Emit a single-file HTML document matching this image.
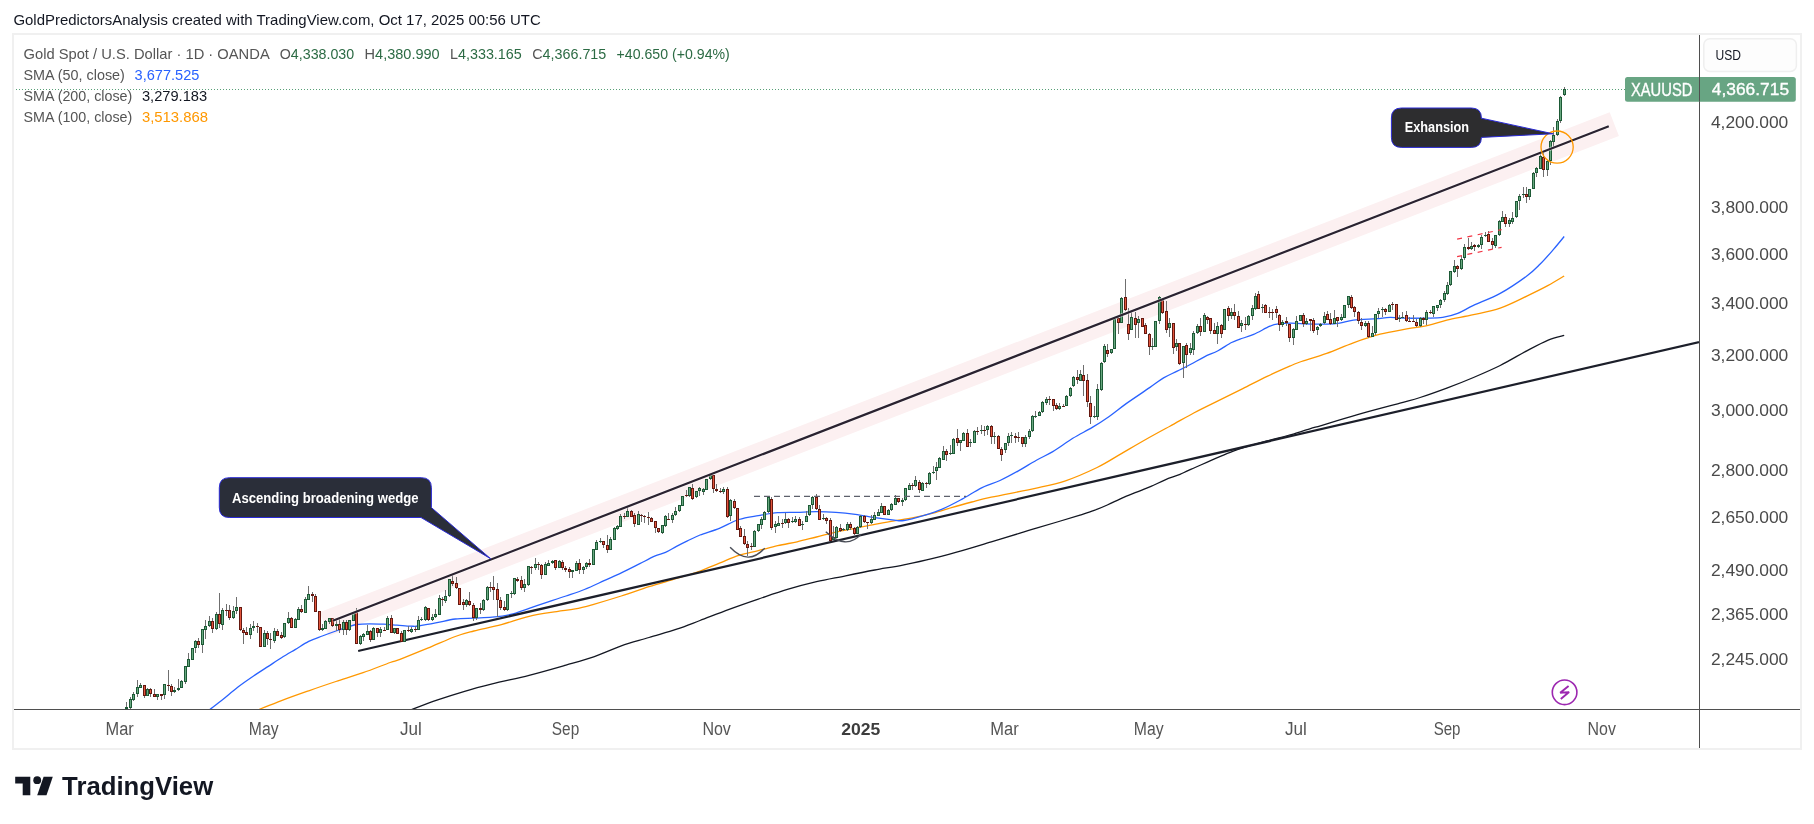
<!DOCTYPE html><html><head><meta charset="utf-8"><style>html,body{margin:0;padding:0;background:#fff;width:1814px;height:824px;overflow:hidden}svg{display:block;will-change:transform}text{font-family:"Liberation Sans",Arial,sans-serif}</style></head><body>
<svg width="1814" height="824" viewBox="0 0 1814 824">
<rect width="1814" height="824" fill="#fff"/>
<text x="13.4" y="24.8" font-size="15" fill="#131722" textLength="527.3" lengthAdjust="spacingAndGlyphs">GoldPredictorsAnalysis created with TradingView.com, Oct 17, 2025 00:56 UTC</text>
<rect x="13" y="34" width="1788" height="715" fill="none" stroke="#f0f0f0" stroke-width="2"/>
<defs><clipPath id="plot"><rect x="14" y="35" width="1685" height="674"/></clipPath></defs>
<g clip-path="url(#plot)">
<line x1="324.3" y1="624.1" x2="1614.3" y2="124.2" stroke="#fcf0f1" stroke-width="25.5" stroke-linecap="butt"/>
<path d="M411.1,709.8 C415.4,708.2 428.0,703.3 436.9,700.2 C445.8,697.1 455.4,694.0 464.6,691.3 C473.8,688.6 481.4,686.6 492.2,683.9 C502.9,681.2 516.8,678.4 529.1,675.3 C541.4,672.2 555.2,668.2 566.0,665.1 C576.8,662.0 584.5,660.0 593.7,656.8 C602.9,653.6 612.1,649.0 621.3,645.8 C630.5,642.6 639.8,640.3 649.0,637.5 C658.2,634.7 668.2,632.0 676.7,629.2 C685.2,626.4 691.3,623.8 700.0,620.5 C708.7,617.2 719.4,613.0 729.1,609.4 C738.8,605.8 748.6,602.4 758.3,599.1 C768.0,595.8 777.7,592.3 787.4,589.4 C797.1,586.5 806.8,584.0 816.5,581.7 C826.2,579.4 835.9,577.8 845.6,575.8 C855.3,573.8 865.1,571.8 874.8,570.0 C884.5,568.2 894.2,566.8 903.9,564.8 C913.6,562.8 923.3,560.7 933.0,558.3 C942.7,555.9 952.4,553.4 962.1,550.6 C971.8,547.9 981.6,544.7 991.3,541.8 C1000.9,538.9 1012.5,535.4 1020.0,533.1 C1027.5,530.8 1026.4,531.2 1036.4,528.2 C1046.4,525.2 1070.4,518.1 1080.0,515.1 C1089.6,512.1 1089.7,512.1 1094.2,510.4 C1098.8,508.7 1102.4,507.2 1107.3,505.0 C1112.2,502.8 1118.2,499.7 1123.7,497.3 C1129.2,494.9 1135.5,492.6 1140.0,490.8 C1144.5,489.0 1146.8,488.2 1151.0,486.4 C1155.2,484.6 1160.4,481.8 1165.2,479.8 C1170.0,477.8 1175.7,476.2 1180.0,474.4 C1184.3,472.6 1182.5,473.0 1191.3,469.2 C1200.1,465.4 1220.1,456.0 1232.7,451.3 C1245.3,446.6 1257.9,443.6 1267.1,441.0 C1276.3,438.4 1279.8,437.8 1287.8,435.5 C1295.8,433.2 1303.9,430.6 1315.4,427.2 C1326.9,423.8 1342.6,418.8 1356.7,414.8 C1370.8,410.8 1389.4,406.0 1400.0,403.1 C1410.6,400.2 1412.3,400.0 1420.1,397.5 C1427.9,395.0 1437.9,391.4 1446.8,388.1 C1455.7,384.8 1464.6,381.3 1473.5,377.5 C1482.4,373.7 1491.3,369.9 1500.2,365.5 C1509.1,361.1 1518.8,355.0 1526.8,350.8 C1534.8,346.6 1542.0,342.7 1548.2,340.1 C1554.4,337.5 1561.5,336.1 1564.2,335.3" fill="none" stroke="#131722" stroke-width="1.3"/>
<path d="M258.4,709.8 C262.2,708.3 273.1,703.8 281.5,700.6 C289.9,697.4 299.6,694.0 308.7,690.8 C317.8,687.6 326.8,684.5 335.9,681.5 C345.0,678.5 354.1,675.9 363.1,672.7 C372.2,669.5 384.1,664.7 390.2,662.5 C396.3,660.3 393.8,661.7 400.0,659.3 C406.2,656.9 418.5,652.0 427.7,648.2 C436.9,644.4 447.6,639.4 455.3,636.5 C463.0,633.6 466.1,633.0 473.8,631.0 C481.5,629.0 492.2,627.1 501.4,624.6 C510.6,622.1 519.9,618.5 529.1,616.3 C538.3,614.1 549.1,612.8 556.8,611.6 C564.5,610.4 569.1,610.1 575.2,608.9 C581.4,607.7 586.0,606.4 593.7,604.3 C601.4,602.1 612.1,598.9 621.3,596.0 C630.5,593.1 639.8,589.6 649.0,586.7 C658.2,583.8 668.2,581.0 676.7,578.4 C685.2,575.8 692.9,573.5 700.0,571.0 C707.1,568.5 712.9,565.8 719.4,563.2 C725.9,560.6 732.3,557.5 738.8,555.4 C745.3,553.3 751.8,552.2 758.3,550.6 C764.8,549.0 771.2,547.2 777.7,545.7 C784.2,544.2 790.6,543.2 797.1,541.8 C803.6,540.3 810.0,538.6 816.5,537.0 C823.0,535.4 829.4,533.6 835.9,532.1 C842.4,530.6 848.8,529.6 855.3,528.3 C861.8,527.0 868.3,525.6 874.8,524.4 C881.3,523.2 887.7,522.0 894.2,520.9 C900.7,519.8 907.1,518.9 913.6,517.6 C920.1,516.3 926.5,514.8 933.0,513.1 C939.5,511.4 945.9,509.2 952.4,507.3 C958.9,505.4 965.3,503.7 971.8,502.0 C978.3,500.3 980.5,499.5 991.3,497.2 C1002.1,494.9 1024.0,490.8 1036.4,488.1 C1048.8,485.4 1055.4,484.2 1065.5,480.8 C1075.6,477.4 1087.8,472.0 1097.1,467.5 C1106.4,463.0 1113.3,458.3 1121.4,453.6 C1129.5,448.9 1137.6,444.1 1145.7,439.5 C1153.8,434.9 1161.8,430.6 1169.9,426.2 C1178.0,421.8 1186.1,417.1 1194.2,412.8 C1202.3,408.6 1210.4,404.7 1218.5,400.7 C1226.6,396.7 1234.7,392.7 1242.8,388.6 C1250.9,384.6 1259.0,380.2 1267.1,376.4 C1275.2,372.5 1285.8,367.9 1291.3,365.5 C1296.8,363.1 1294.1,364.0 1300.0,362.0 C1305.9,360.0 1317.8,356.6 1326.7,353.4 C1335.6,350.2 1344.5,346.0 1353.4,342.8 C1362.3,339.6 1371.2,336.5 1380.1,334.2 C1389.0,331.9 1398.8,330.4 1406.8,328.9 C1414.8,327.4 1421.4,326.9 1428.1,325.4 C1434.8,323.9 1439.2,321.9 1446.8,320.1 C1454.4,318.3 1464.6,316.7 1473.5,314.7 C1482.4,312.7 1491.3,311.2 1500.2,308.1 C1509.1,305.0 1518.8,299.9 1526.8,296.1 C1534.8,292.3 1542.0,288.8 1548.2,285.4 C1554.4,282.0 1561.5,277.6 1564.2,276.0" fill="none" stroke="#ff9800" stroke-width="1.3"/>
<path d="M209.5,709.8 C211.8,708.0 218.3,703.0 223.1,699.2 C227.8,695.4 232.8,691.0 238.0,687.0 C243.2,683.0 249.4,678.8 254.4,675.4 C259.4,672.0 263.4,669.5 267.9,666.6 C272.4,663.7 277.0,660.6 281.5,657.8 C286.0,655.0 290.6,652.3 295.1,649.6 C299.6,646.9 304.2,643.7 308.7,641.4 C313.2,639.1 317.8,637.7 322.3,636.0 C326.8,634.3 331.4,632.6 335.9,631.0 C340.4,629.4 346.1,627.6 349.5,626.5 C352.9,625.4 352.9,625.0 356.3,624.5 C359.7,624.0 365.4,623.8 369.9,623.8 C374.4,623.8 378.9,624.0 383.4,624.2 C387.9,624.4 392.5,624.8 397.0,625.1 C401.5,625.4 407.0,626.0 410.6,626.1 C414.2,626.2 414.0,626.6 418.4,626.0 C422.8,625.4 430.8,623.9 436.9,622.7 C443.0,621.5 449.1,619.8 455.3,619.0 C461.5,618.2 467.7,618.4 473.8,618.1 C479.9,617.8 486.1,617.8 492.2,617.2 C498.3,616.6 504.5,615.9 510.7,614.4 C516.9,612.9 523.0,610.3 529.1,608.3 C535.2,606.2 541.4,604.1 547.5,602.1 C553.6,600.1 559.9,598.1 566.0,596.0 C572.1,593.9 578.2,592.0 584.4,589.5 C590.5,587.0 596.8,584.0 602.9,581.2 C609.0,578.4 615.1,575.8 621.3,572.9 C627.4,570.0 634.2,566.5 639.8,563.7 C645.3,560.9 650.3,558.1 654.6,556.2 C658.9,554.3 661.9,554.0 665.5,552.4 C669.1,550.8 672.9,548.3 676.5,546.4 C680.1,544.5 683.5,542.8 687.4,540.9 C691.3,539.0 694.7,537.1 700.0,535.0 C705.3,532.9 712.9,530.9 719.4,528.3 C725.9,525.7 732.3,521.6 738.8,519.5 C745.3,517.4 751.8,516.7 758.3,515.6 C764.8,514.5 771.2,513.2 777.7,512.7 C784.2,512.2 790.6,512.5 797.1,512.3 C803.6,512.1 810.0,511.7 816.5,511.7 C823.0,511.7 829.4,511.9 835.9,512.3 C842.4,512.7 848.8,513.4 855.3,514.3 C861.8,515.2 868.3,516.6 874.8,517.6 C881.3,518.6 889.4,519.6 894.2,520.1 C899.1,520.6 899.0,521.2 903.9,520.5 C908.8,519.8 916.8,517.6 923.3,515.6 C929.8,513.6 936.2,511.6 942.7,508.8 C949.2,506.1 955.6,502.6 962.1,499.1 C968.6,495.6 975.3,490.9 981.6,487.8 C987.9,484.7 993.8,483.4 1000.0,480.5 C1006.2,477.6 1012.7,474.0 1018.8,470.6 C1024.9,467.2 1030.7,463.4 1036.4,460.2 C1042.1,457.0 1046.7,455.2 1052.8,451.6 C1058.9,448.0 1066.2,442.3 1072.8,438.3 C1079.4,434.3 1086.2,431.0 1092.3,427.4 C1098.4,423.8 1103.5,420.5 1109.2,416.5 C1114.9,412.5 1119.4,408.5 1126.2,403.6 C1133.0,398.8 1143.8,391.7 1150.0,387.4 C1156.2,383.1 1159.1,380.6 1163.6,377.9 C1168.1,375.2 1172.7,373.4 1177.2,371.1 C1181.7,368.8 1186.3,366.7 1190.8,364.3 C1195.3,361.9 1199.9,359.1 1204.4,356.8 C1208.9,354.5 1213.5,353.1 1218.0,350.7 C1222.5,348.3 1227.9,344.4 1231.6,342.5 C1235.3,340.6 1236.3,340.5 1240.0,339.1 C1243.7,337.8 1248.7,336.5 1253.7,334.4 C1258.7,332.2 1265.7,328.0 1270.0,326.2 C1274.3,324.4 1276.1,324.3 1279.5,323.8 C1282.9,323.3 1286.3,323.2 1290.4,323.2 C1294.5,323.2 1298.0,323.6 1304.0,323.8 C1310.0,324.0 1320.8,324.2 1326.7,324.1 C1332.7,324.0 1335.2,323.8 1339.7,323.1 C1344.2,322.4 1347.3,320.8 1353.4,320.1 C1359.5,319.4 1370.3,319.1 1376.4,318.7 C1382.5,318.2 1384.9,317.5 1390.0,317.4 C1395.1,317.3 1400.7,318.1 1406.8,318.2 C1412.9,318.3 1420.4,318.2 1426.4,318.1 C1432.4,318.0 1437.5,318.2 1442.7,317.4 C1447.9,316.6 1452.6,315.4 1457.7,313.4 C1462.8,311.4 1466.4,308.7 1473.5,305.4 C1480.6,302.1 1491.3,298.3 1500.2,293.4 C1509.1,288.5 1520.1,280.9 1526.8,276.0 C1533.5,271.1 1535.8,268.4 1540.2,264.0 C1544.7,259.6 1549.5,254.0 1553.5,249.4 C1557.5,244.8 1562.4,238.7 1564.2,236.5" fill="none" stroke="#2962ff" stroke-width="1.3"/>
<line x1="359.1" y1="650.8" x2="1710" y2="339.6" stroke="#1c1f2a" stroke-width="2.2" stroke-linecap="round"/>
<line x1="13" y1="89.5" x2="1625" y2="89.5" stroke="#58a077" stroke-width="1" stroke-dasharray="1 2"/>
<g fill="#6f6f6f"><rect x="126.0" y="702" width="1" height="7"/><rect x="130.0" y="697" width="1" height="12"/><rect x="133.0" y="692" width="1" height="9"/><rect x="137.0" y="680" width="1" height="17"/><rect x="140.0" y="683" width="1" height="5"/><rect x="144.0" y="685" width="1" height="13"/><rect x="147.0" y="688" width="1" height="8"/><rect x="150.0" y="688" width="1" height="9"/><rect x="154.0" y="689" width="1" height="8"/><rect x="157.0" y="694" width="1" height="6"/><rect x="161.0" y="694" width="1" height="6"/><rect x="164.0" y="684" width="1" height="15"/><rect x="168.0" y="670" width="1" height="21"/><rect x="171.0" y="684" width="1" height="12"/><rect x="174.0" y="687" width="1" height="6"/><rect x="178.0" y="679" width="1" height="12"/><rect x="181.0" y="680" width="1" height="8"/><rect x="185.0" y="666" width="1" height="18"/><rect x="188.0" y="653" width="1" height="14"/><rect x="192.0" y="648" width="1" height="12"/><rect x="195.0" y="640" width="1" height="13"/><rect x="198.0" y="638" width="1" height="10"/><rect x="202.0" y="629" width="1" height="24"/><rect x="205.0" y="620" width="1" height="19"/><rect x="209.0" y="616" width="1" height="11"/><rect x="212.0" y="618" width="1" height="15"/><rect x="216.0" y="612" width="1" height="18"/><rect x="219.0" y="593" width="1" height="35"/><rect x="222.0" y="608" width="1" height="22"/><rect x="226.0" y="604" width="1" height="12"/><rect x="229.0" y="605" width="1" height="15"/><rect x="233.0" y="606" width="1" height="13"/><rect x="236.0" y="597" width="1" height="17"/><rect x="240.0" y="607" width="1" height="24"/><rect x="243.0" y="628" width="1" height="16"/><rect x="246.0" y="627" width="1" height="8"/><rect x="250.0" y="624" width="1" height="15"/><rect x="253.0" y="621" width="1" height="10"/><rect x="257.0" y="623" width="1" height="10"/><rect x="260.0" y="627" width="1" height="20"/><rect x="264.0" y="630" width="1" height="17"/><rect x="267.0" y="631" width="1" height="14"/><rect x="270.0" y="633" width="1" height="16"/><rect x="274.0" y="628" width="1" height="15"/><rect x="277.0" y="629" width="1" height="7"/><rect x="281.0" y="632" width="1" height="7"/><rect x="284.0" y="623" width="1" height="15"/><rect x="288.0" y="612" width="1" height="12"/><rect x="291.0" y="617" width="1" height="11"/><rect x="295.0" y="618" width="1" height="10"/><rect x="298.0" y="607" width="1" height="13"/><rect x="301.0" y="605" width="1" height="8"/><rect x="305.0" y="597" width="1" height="16"/><rect x="308.0" y="586" width="1" height="14"/><rect x="312.0" y="592" width="1" height="10"/><rect x="315.0" y="594" width="1" height="18"/><rect x="319.0" y="611" width="1" height="20"/><rect x="322.0" y="624" width="1" height="7"/><rect x="325.0" y="620" width="1" height="9"/><rect x="329.0" y="618" width="1" height="6"/><rect x="332.0" y="618" width="1" height="9"/><rect x="336.0" y="620" width="1" height="11"/><rect x="339.0" y="619" width="1" height="14"/><rect x="343.0" y="620" width="1" height="15"/><rect x="346.0" y="620" width="1" height="15"/><rect x="349.0" y="620" width="1" height="11"/><rect x="353.0" y="612" width="1" height="9"/><rect x="356.0" y="608" width="1" height="36"/><rect x="360.0" y="635" width="1" height="10"/><rect x="363.0" y="633" width="1" height="8"/><rect x="367.0" y="625" width="1" height="10"/><rect x="370.0" y="630" width="1" height="12"/><rect x="373.0" y="627" width="1" height="13"/><rect x="377.0" y="628" width="1" height="9"/><rect x="380.0" y="627" width="1" height="10"/><rect x="384.0" y="627" width="1" height="4"/><rect x="387.0" y="616" width="1" height="14"/><rect x="391.0" y="615" width="1" height="18"/><rect x="394.0" y="628" width="1" height="6"/><rect x="397.0" y="628" width="1" height="6"/><rect x="401.0" y="631" width="1" height="11"/><rect x="404.0" y="630" width="1" height="12"/><rect x="408.0" y="626" width="1" height="6"/><rect x="411.0" y="627" width="1" height="6"/><rect x="415.0" y="626" width="1" height="6"/><rect x="418.0" y="616" width="1" height="14"/><rect x="421.0" y="617" width="1" height="4"/><rect x="425.0" y="606" width="1" height="15"/><rect x="428.0" y="608" width="1" height="13"/><rect x="432.0" y="614" width="1" height="7"/><rect x="435.0" y="609" width="1" height="9"/><rect x="439.0" y="595" width="1" height="20"/><rect x="442.0" y="597" width="1" height="9"/><rect x="445.0" y="590" width="1" height="13"/><rect x="449.0" y="579" width="1" height="18"/><rect x="452.0" y="574" width="1" height="12"/><rect x="456.0" y="577" width="1" height="12"/><rect x="459.0" y="588" width="1" height="17"/><rect x="463.0" y="599" width="1" height="11"/><rect x="466.0" y="599" width="1" height="8"/><rect x="469.0" y="592" width="1" height="14"/><rect x="473.0" y="603" width="1" height="18"/><rect x="476.0" y="608" width="1" height="12"/><rect x="480.0" y="603" width="1" height="11"/><rect x="483.0" y="599" width="1" height="12"/><rect x="487.0" y="586" width="1" height="15"/><rect x="490.0" y="582" width="1" height="10"/><rect x="493.0" y="576" width="1" height="24"/><rect x="497.0" y="583" width="1" height="34"/><rect x="500.0" y="597" width="1" height="13"/><rect x="504.0" y="601" width="1" height="10"/><rect x="507.0" y="594" width="1" height="17"/><rect x="511.0" y="591" width="1" height="7"/><rect x="514.0" y="578" width="1" height="17"/><rect x="517.0" y="577" width="1" height="5"/><rect x="521.0" y="576" width="1" height="14"/><rect x="524.0" y="579" width="1" height="13"/><rect x="528.0" y="566" width="1" height="20"/><rect x="531.0" y="566" width="1" height="8"/><rect x="535.0" y="558" width="1" height="12"/><rect x="538.0" y="562" width="1" height="8"/><rect x="541.0" y="564" width="1" height="15"/><rect x="545.0" y="562" width="1" height="13"/><rect x="548.0" y="560" width="1" height="6"/><rect x="552.0" y="560" width="1" height="4"/><rect x="555.0" y="560" width="1" height="10"/><rect x="559.0" y="560" width="1" height="8"/><rect x="562.0" y="560" width="1" height="10"/><rect x="565.0" y="566" width="1" height="6"/><rect x="569.0" y="567" width="1" height="11"/><rect x="572.0" y="570" width="1" height="8"/><rect x="576.0" y="561" width="1" height="10"/><rect x="579.0" y="559" width="1" height="15"/><rect x="583.0" y="566" width="1" height="8"/><rect x="586.0" y="562" width="1" height="7"/><rect x="589.0" y="559" width="1" height="8"/><rect x="593.0" y="549" width="1" height="16"/><rect x="596.0" y="540" width="1" height="10"/><rect x="600.0" y="538" width="1" height="5"/><rect x="603.0" y="541" width="1" height="7"/><rect x="607.0" y="535" width="1" height="18"/><rect x="610.0" y="537" width="1" height="13"/><rect x="614.0" y="527" width="1" height="13"/><rect x="617.0" y="525" width="1" height="5"/><rect x="620.0" y="514" width="1" height="13"/><rect x="624.0" y="513" width="1" height="6"/><rect x="627.0" y="507" width="1" height="10"/><rect x="631.0" y="510" width="1" height="7"/><rect x="634.0" y="513" width="1" height="14"/><rect x="638.0" y="511" width="1" height="14"/><rect x="641.0" y="514" width="1" height="8"/><rect x="644.0" y="515" width="1" height="8"/><rect x="648.0" y="512" width="1" height="13"/><rect x="651.0" y="517" width="1" height="5"/><rect x="655.0" y="521" width="1" height="12"/><rect x="658.0" y="528" width="1" height="5"/><rect x="662.0" y="525" width="1" height="9"/><rect x="665.0" y="515" width="1" height="12"/><rect x="668.0" y="513" width="1" height="7"/><rect x="672.0" y="513" width="1" height="10"/><rect x="675.0" y="507" width="1" height="9"/><rect x="679.0" y="505" width="1" height="7"/><rect x="682.0" y="496" width="1" height="10"/><rect x="686.0" y="490" width="1" height="7"/><rect x="689.0" y="487" width="1" height="10"/><rect x="692.0" y="484" width="1" height="16"/><rect x="696.0" y="491" width="1" height="7"/><rect x="699.0" y="487" width="1" height="9"/><rect x="703.0" y="488" width="1" height="7"/><rect x="706.0" y="479" width="1" height="11"/><rect x="710.0" y="475" width="1" height="5"/><rect x="713.0" y="475" width="1" height="18"/><rect x="716.0" y="484" width="1" height="8"/><rect x="720.0" y="488" width="1" height="5"/><rect x="723.0" y="487" width="1" height="7"/><rect x="727.0" y="487" width="1" height="31"/><rect x="730.0" y="499" width="1" height="22"/><rect x="734.0" y="499" width="1" height="10"/><rect x="737.0" y="508" width="1" height="22"/><rect x="740.0" y="526" width="1" height="11"/><rect x="744.0" y="529" width="1" height="16"/><rect x="747.0" y="541" width="1" height="15"/><rect x="751.0" y="543" width="1" height="7"/><rect x="754.0" y="530" width="1" height="17"/><rect x="758.0" y="524" width="1" height="8"/><rect x="761.0" y="517" width="1" height="12"/><rect x="764.0" y="511" width="1" height="9"/><rect x="768.0" y="497" width="1" height="16"/><rect x="771.0" y="497" width="1" height="33"/><rect x="775.0" y="521" width="1" height="12"/><rect x="778.0" y="516" width="1" height="10"/><rect x="782.0" y="519" width="1" height="9"/><rect x="785.0" y="513" width="1" height="11"/><rect x="788.0" y="518" width="1" height="10"/><rect x="792.0" y="517" width="1" height="6"/><rect x="795.0" y="516" width="1" height="7"/><rect x="799.0" y="517" width="1" height="9"/><rect x="802.0" y="521" width="1" height="9"/><rect x="806.0" y="511" width="1" height="11"/><rect x="809.0" y="505" width="1" height="11"/><rect x="812.0" y="496" width="1" height="13"/><rect x="816.0" y="494" width="1" height="16"/><rect x="819.0" y="505" width="1" height="15"/><rect x="823.0" y="514" width="1" height="6"/><rect x="826.0" y="517" width="1" height="7"/><rect x="830.0" y="518" width="1" height="23"/><rect x="833.0" y="526" width="1" height="14"/><rect x="836.0" y="526" width="1" height="12"/><rect x="840.0" y="524" width="1" height="8"/><rect x="843.0" y="528" width="1" height="3"/><rect x="847.0" y="522" width="1" height="9"/><rect x="850.0" y="522" width="1" height="8"/><rect x="854.0" y="527" width="1" height="8"/><rect x="857.0" y="526" width="1" height="8"/><rect x="860.0" y="515" width="1" height="13"/><rect x="864.0" y="515" width="1" height="8"/><rect x="867.0" y="522" width="1" height="7"/><rect x="871.0" y="515" width="1" height="9"/><rect x="874.0" y="512" width="1" height="8"/><rect x="878.0" y="509" width="1" height="7"/><rect x="881.0" y="503" width="1" height="10"/><rect x="884.0" y="506" width="1" height="9"/><rect x="888.0" y="509" width="1" height="6"/><rect x="891.0" y="503" width="1" height="8"/><rect x="895.0" y="495" width="1" height="10"/><rect x="898.0" y="498" width="1" height="5"/><rect x="902.0" y="498" width="1" height="8"/><rect x="905.0" y="488" width="1" height="13"/><rect x="909.0" y="483" width="1" height="7"/><rect x="912.0" y="483" width="1" height="7"/><rect x="915.0" y="476" width="1" height="11"/><rect x="919.0" y="480" width="1" height="13"/><rect x="922.0" y="482" width="1" height="9"/><rect x="926.0" y="482" width="1" height="6"/><rect x="929.0" y="472" width="1" height="13"/><rect x="933.0" y="466" width="1" height="8"/><rect x="936.0" y="462" width="1" height="18"/><rect x="939.0" y="457" width="1" height="11"/><rect x="943.0" y="446" width="1" height="14"/><rect x="946.0" y="449" width="1" height="12"/><rect x="950.0" y="445" width="1" height="10"/><rect x="953.0" y="438" width="1" height="16"/><rect x="957.0" y="429" width="1" height="17"/><rect x="960.0" y="440" width="1" height="11"/><rect x="963.0" y="432" width="1" height="9"/><rect x="967.0" y="429" width="1" height="18"/><rect x="970.0" y="439" width="1" height="8"/><rect x="974.0" y="430" width="1" height="13"/><rect x="977.0" y="427" width="1" height="8"/><rect x="981.0" y="425" width="1" height="9"/><rect x="984.0" y="426" width="1" height="10"/><rect x="987.0" y="425" width="1" height="10"/><rect x="991.0" y="425" width="1" height="19"/><rect x="994.0" y="432" width="1" height="12"/><rect x="998.0" y="435" width="1" height="14"/><rect x="1001.0" y="447" width="1" height="14"/><rect x="1005.0" y="443" width="1" height="10"/><rect x="1008.0" y="433" width="1" height="13"/><rect x="1011.0" y="432" width="1" height="11"/><rect x="1015.0" y="433" width="1" height="10"/><rect x="1018.0" y="432" width="1" height="10"/><rect x="1022.0" y="437" width="1" height="10"/><rect x="1025.0" y="435" width="1" height="12"/><rect x="1029.0" y="429" width="1" height="10"/><rect x="1032.0" y="415" width="1" height="17"/><rect x="1035.0" y="411" width="1" height="7"/><rect x="1039.0" y="411" width="1" height="5"/><rect x="1042.0" y="401" width="1" height="12"/><rect x="1046.0" y="397" width="1" height="8"/><rect x="1049.0" y="396" width="1" height="9"/><rect x="1053.0" y="399" width="1" height="12"/><rect x="1056.0" y="403" width="1" height="7"/><rect x="1059.0" y="403" width="1" height="7"/><rect x="1063.0" y="404" width="1" height="3"/><rect x="1066.0" y="395" width="1" height="11"/><rect x="1070.0" y="387" width="1" height="10"/><rect x="1073.0" y="376" width="1" height="11"/><rect x="1077.0" y="370" width="1" height="14"/><rect x="1080.0" y="370" width="1" height="11"/><rect x="1083.0" y="365" width="1" height="31"/><rect x="1087.0" y="374" width="1" height="33"/><rect x="1090.0" y="396" width="1" height="28"/><rect x="1094.0" y="406" width="1" height="12"/><rect x="1097.0" y="384" width="1" height="36"/><rect x="1101.0" y="362" width="1" height="29"/><rect x="1104.0" y="344" width="1" height="19"/><rect x="1107.0" y="344" width="1" height="13"/><rect x="1111.0" y="349" width="1" height="5"/><rect x="1114.0" y="318" width="1" height="31"/><rect x="1118.0" y="316" width="1" height="18"/><rect x="1121.0" y="297" width="1" height="26"/><rect x="1125.0" y="279" width="1" height="32"/><rect x="1128.0" y="308" width="1" height="32"/><rect x="1131.0" y="312" width="1" height="18"/><rect x="1135.0" y="312" width="1" height="26"/><rect x="1138.0" y="316" width="1" height="22"/><rect x="1142.0" y="318" width="1" height="9"/><rect x="1145.0" y="323" width="1" height="11"/><rect x="1149.0" y="333" width="1" height="22"/><rect x="1152.0" y="338" width="1" height="12"/><rect x="1155.0" y="321" width="1" height="26"/><rect x="1159.0" y="296" width="1" height="28"/><rect x="1162.0" y="299" width="1" height="15"/><rect x="1166.0" y="301" width="1" height="32"/><rect x="1169.0" y="318" width="1" height="19"/><rect x="1173.0" y="323" width="1" height="31"/><rect x="1176.0" y="339" width="1" height="12"/><rect x="1179.0" y="343" width="1" height="22"/><rect x="1183.0" y="346" width="1" height="32"/><rect x="1186.0" y="343" width="1" height="25"/><rect x="1190.0" y="343" width="1" height="12"/><rect x="1193.0" y="331" width="1" height="24"/><rect x="1197.0" y="324" width="1" height="10"/><rect x="1200.0" y="318" width="1" height="18"/><rect x="1204.0" y="313" width="1" height="19"/><rect x="1207.0" y="316" width="1" height="8"/><rect x="1210.0" y="318" width="1" height="16"/><rect x="1214.0" y="323" width="1" height="11"/><rect x="1217.0" y="322" width="1" height="22"/><rect x="1221.0" y="324" width="1" height="14"/><rect x="1224.0" y="309" width="1" height="21"/><rect x="1228.0" y="306" width="1" height="15"/><rect x="1231.0" y="308" width="1" height="11"/><rect x="1234.0" y="304" width="1" height="16"/><rect x="1238.0" y="311" width="1" height="17"/><rect x="1241.0" y="320" width="1" height="12"/><rect x="1245.0" y="317" width="1" height="13"/><rect x="1248.0" y="315" width="1" height="11"/><rect x="1252.0" y="305" width="1" height="15"/><rect x="1255.0" y="293" width="1" height="17"/><rect x="1258.0" y="291" width="1" height="18"/><rect x="1262.0" y="304" width="1" height="9"/><rect x="1265.0" y="304" width="1" height="9"/><rect x="1269.0" y="307" width="1" height="11"/><rect x="1272.0" y="309" width="1" height="11"/><rect x="1276.0" y="306" width="1" height="12"/><rect x="1279.0" y="314" width="1" height="17"/><rect x="1282.0" y="320" width="1" height="7"/><rect x="1286.0" y="317" width="1" height="9"/><rect x="1289.0" y="324" width="1" height="18"/><rect x="1293.0" y="328" width="1" height="17"/><rect x="1296.0" y="316" width="1" height="14"/><rect x="1300.0" y="315" width="1" height="6"/><rect x="1303.0" y="313" width="1" height="14"/><rect x="1306.0" y="318" width="1" height="7"/><rect x="1310.0" y="319" width="1" height="12"/><rect x="1313.0" y="318" width="1" height="15"/><rect x="1317.0" y="326" width="1" height="9"/><rect x="1320.0" y="323" width="1" height="4"/><rect x="1324.0" y="312" width="1" height="12"/><rect x="1327.0" y="311" width="1" height="9"/><rect x="1330.0" y="313" width="1" height="12"/><rect x="1334.0" y="310" width="1" height="14"/><rect x="1337.0" y="317" width="1" height="10"/><rect x="1341.0" y="314" width="1" height="7"/><rect x="1344.0" y="305" width="1" height="13"/><rect x="1348.0" y="296" width="1" height="12"/><rect x="1351.0" y="295" width="1" height="14"/><rect x="1354.0" y="306" width="1" height="11"/><rect x="1358.0" y="311" width="1" height="13"/><rect x="1361.0" y="318" width="1" height="12"/><rect x="1365.0" y="321" width="1" height="6"/><rect x="1368.0" y="321" width="1" height="17"/><rect x="1372.0" y="326" width="1" height="11"/><rect x="1375.0" y="314" width="1" height="21"/><rect x="1378.0" y="308" width="1" height="10"/><rect x="1382.0" y="307" width="1" height="10"/><rect x="1385.0" y="308" width="1" height="7"/><rect x="1389.0" y="304" width="1" height="8"/><rect x="1392.0" y="302" width="1" height="8"/><rect x="1396.0" y="304" width="1" height="16"/><rect x="1399.0" y="315" width="1" height="7"/><rect x="1402.0" y="312" width="1" height="6"/><rect x="1406.0" y="311" width="1" height="11"/><rect x="1409.0" y="317" width="1" height="5"/><rect x="1413.0" y="315" width="1" height="7"/><rect x="1416.0" y="319" width="1" height="8"/><rect x="1420.0" y="317" width="1" height="10"/><rect x="1423.0" y="317" width="1" height="7"/><rect x="1426.0" y="310" width="1" height="15"/><rect x="1430.0" y="310" width="1" height="4"/><rect x="1433.0" y="306" width="1" height="11"/><rect x="1437.0" y="305" width="1" height="6"/><rect x="1440.0" y="299" width="1" height="9"/><rect x="1444.0" y="291" width="1" height="11"/><rect x="1447.0" y="282" width="1" height="13"/><rect x="1450.0" y="271" width="1" height="15"/><rect x="1454.0" y="260" width="1" height="13"/><rect x="1457.0" y="265" width="1" height="12"/><rect x="1461.0" y="256" width="1" height="14"/><rect x="1464.0" y="244" width="1" height="16"/><rect x="1468.0" y="238" width="1" height="12"/><rect x="1471.0" y="242" width="1" height="8"/><rect x="1474.0" y="244" width="1" height="7"/><rect x="1478.0" y="244" width="1" height="4"/><rect x="1481.0" y="235" width="1" height="14"/><rect x="1485.0" y="232" width="1" height="5"/><rect x="1488.0" y="231" width="1" height="11"/><rect x="1492.0" y="238" width="1" height="11"/><rect x="1495.0" y="235" width="1" height="13"/><rect x="1499.0" y="220" width="1" height="16"/><rect x="1502.0" y="211" width="1" height="11"/><rect x="1505.0" y="214" width="1" height="13"/><rect x="1509.0" y="218" width="1" height="9"/><rect x="1512.0" y="212" width="1" height="12"/><rect x="1516.0" y="201" width="1" height="17"/><rect x="1519.0" y="194" width="1" height="16"/><rect x="1523.0" y="187" width="1" height="11"/><rect x="1526.0" y="187" width="1" height="16"/><rect x="1529.0" y="189" width="1" height="11"/><rect x="1533.0" y="172" width="1" height="17"/><rect x="1536.0" y="167" width="1" height="10"/><rect x="1540.0" y="153" width="1" height="16"/><rect x="1543.0" y="153" width="1" height="24"/><rect x="1547.0" y="160" width="1" height="16"/><rect x="1550.0" y="140" width="1" height="25"/><rect x="1553.0" y="127" width="1" height="20"/><rect x="1557.0" y="119" width="1" height="17"/><rect x="1560.0" y="96" width="1" height="27"/><rect x="1564.0" y="87" width="1" height="9"/></g>
<g><rect x="125.0" y="707" width="3" height="2" fill="#1d5a36"/><rect x="129.0" y="699" width="3" height="9" fill="#1d5a36"/><rect x="130.0" y="700" width="1" height="7" fill="#68a880"/><rect x="132.0" y="694" width="3" height="6" fill="#1d5a36"/><rect x="133.0" y="695" width="1" height="4" fill="#68a880"/><rect x="136.0" y="687" width="3" height="7" fill="#1d5a36"/><rect x="137.0" y="688" width="1" height="5" fill="#68a880"/><rect x="139.0" y="685" width="3" height="3" fill="#1d5a36"/><rect x="140.0" y="686" width="1" height="1" fill="#68a880"/><rect x="143.0" y="685" width="3" height="11" fill="#641810"/><rect x="144.0" y="686" width="1" height="9" fill="#e2553c"/><rect x="146.0" y="689" width="3" height="7" fill="#1d5a36"/><rect x="147.0" y="690" width="1" height="5" fill="#68a880"/><rect x="149.0" y="689" width="3" height="5" fill="#641810"/><rect x="150.0" y="690" width="1" height="3" fill="#e2553c"/><rect x="153.0" y="694" width="3" height="3" fill="#641810"/><rect x="154.0" y="695" width="1" height="1" fill="#e2553c"/><rect x="156.0" y="694" width="3" height="3" fill="#1d5a36"/><rect x="157.0" y="695" width="1" height="1" fill="#68a880"/><rect x="160.0" y="694" width="3" height="2" fill="#641810"/><rect x="163.0" y="684" width="3" height="11" fill="#1d5a36"/><rect x="164.0" y="685" width="1" height="9" fill="#68a880"/><rect x="167.0" y="685" width="3" height="1" fill="#641810"/><rect x="170.0" y="686" width="3" height="6" fill="#641810"/><rect x="171.0" y="687" width="1" height="4" fill="#e2553c"/><rect x="173.0" y="690" width="3" height="2" fill="#1d5a36"/><rect x="177.0" y="688" width="3" height="2" fill="#1d5a36"/><rect x="180.0" y="681" width="3" height="7" fill="#1d5a36"/><rect x="181.0" y="682" width="1" height="5" fill="#68a880"/><rect x="184.0" y="666" width="3" height="16" fill="#1d5a36"/><rect x="185.0" y="667" width="1" height="14" fill="#68a880"/><rect x="187.0" y="659" width="3" height="8" fill="#1d5a36"/><rect x="188.0" y="660" width="1" height="6" fill="#68a880"/><rect x="191.0" y="648" width="3" height="12" fill="#1d5a36"/><rect x="192.0" y="649" width="1" height="10" fill="#68a880"/><rect x="194.0" y="641" width="3" height="7" fill="#1d5a36"/><rect x="195.0" y="642" width="1" height="5" fill="#68a880"/><rect x="197.0" y="641" width="3" height="4" fill="#641810"/><rect x="198.0" y="642" width="1" height="2" fill="#e2553c"/><rect x="201.0" y="629" width="3" height="16" fill="#1d5a36"/><rect x="202.0" y="630" width="1" height="14" fill="#68a880"/><rect x="204.0" y="626" width="3" height="4" fill="#1d5a36"/><rect x="205.0" y="627" width="1" height="2" fill="#68a880"/><rect x="208.0" y="621" width="3" height="5" fill="#1d5a36"/><rect x="209.0" y="622" width="1" height="3" fill="#68a880"/><rect x="211.0" y="621" width="3" height="8" fill="#641810"/><rect x="212.0" y="622" width="1" height="6" fill="#e2553c"/><rect x="215.0" y="614" width="3" height="15" fill="#1d5a36"/><rect x="216.0" y="615" width="1" height="13" fill="#68a880"/><rect x="218.0" y="614" width="3" height="10" fill="#641810"/><rect x="219.0" y="615" width="1" height="8" fill="#e2553c"/><rect x="221.0" y="610" width="3" height="15" fill="#1d5a36"/><rect x="222.0" y="611" width="1" height="13" fill="#68a880"/><rect x="225.0" y="610" width="3" height="1" fill="#641810"/><rect x="228.0" y="610" width="3" height="8" fill="#641810"/><rect x="229.0" y="611" width="1" height="6" fill="#e2553c"/><rect x="232.0" y="611" width="3" height="7" fill="#1d5a36"/><rect x="233.0" y="612" width="1" height="5" fill="#68a880"/><rect x="235.0" y="607" width="3" height="4" fill="#1d5a36"/><rect x="236.0" y="608" width="1" height="2" fill="#68a880"/><rect x="239.0" y="607" width="3" height="23" fill="#641810"/><rect x="240.0" y="608" width="1" height="21" fill="#e2553c"/><rect x="242.0" y="630" width="3" height="3" fill="#641810"/><rect x="243.0" y="631" width="1" height="1" fill="#e2553c"/><rect x="245.0" y="632" width="3" height="3" fill="#641810"/><rect x="246.0" y="633" width="1" height="1" fill="#e2553c"/><rect x="249.0" y="628" width="3" height="7" fill="#1d5a36"/><rect x="250.0" y="629" width="1" height="5" fill="#68a880"/><rect x="252.0" y="626" width="3" height="2" fill="#1d5a36"/><rect x="256.0" y="626" width="3" height="1" fill="#641810"/><rect x="259.0" y="627" width="3" height="20" fill="#641810"/><rect x="260.0" y="628" width="1" height="18" fill="#e2553c"/><rect x="263.0" y="633" width="3" height="14" fill="#1d5a36"/><rect x="264.0" y="634" width="1" height="12" fill="#68a880"/><rect x="266.0" y="633" width="3" height="6" fill="#641810"/><rect x="267.0" y="634" width="1" height="4" fill="#e2553c"/><rect x="269.0" y="639" width="3" height="1" fill="#641810"/><rect x="273.0" y="631" width="3" height="10" fill="#1d5a36"/><rect x="274.0" y="632" width="1" height="8" fill="#68a880"/><rect x="276.0" y="631" width="3" height="5" fill="#641810"/><rect x="277.0" y="632" width="1" height="3" fill="#e2553c"/><rect x="280.0" y="635" width="3" height="3" fill="#641810"/><rect x="281.0" y="636" width="1" height="1" fill="#e2553c"/><rect x="283.0" y="623" width="3" height="14" fill="#1d5a36"/><rect x="284.0" y="624" width="1" height="12" fill="#68a880"/><rect x="287.0" y="618" width="3" height="5" fill="#1d5a36"/><rect x="288.0" y="619" width="1" height="3" fill="#68a880"/><rect x="290.0" y="618" width="3" height="10" fill="#641810"/><rect x="291.0" y="619" width="1" height="8" fill="#e2553c"/><rect x="294.0" y="619" width="3" height="9" fill="#1d5a36"/><rect x="295.0" y="620" width="1" height="7" fill="#68a880"/><rect x="297.0" y="609" width="3" height="11" fill="#1d5a36"/><rect x="298.0" y="610" width="1" height="9" fill="#68a880"/><rect x="300.0" y="609" width="3" height="3" fill="#641810"/><rect x="301.0" y="610" width="1" height="1" fill="#e2553c"/><rect x="304.0" y="599" width="3" height="14" fill="#1d5a36"/><rect x="305.0" y="600" width="1" height="12" fill="#68a880"/><rect x="307.0" y="594" width="3" height="6" fill="#1d5a36"/><rect x="308.0" y="595" width="1" height="4" fill="#68a880"/><rect x="311.0" y="594" width="3" height="2" fill="#641810"/><rect x="314.0" y="596" width="3" height="16" fill="#641810"/><rect x="315.0" y="597" width="1" height="14" fill="#e2553c"/><rect x="318.0" y="611" width="3" height="19" fill="#641810"/><rect x="319.0" y="612" width="1" height="17" fill="#e2553c"/><rect x="321.0" y="628" width="3" height="2" fill="#1d5a36"/><rect x="324.0" y="621" width="3" height="8" fill="#1d5a36"/><rect x="325.0" y="622" width="1" height="6" fill="#68a880"/><rect x="328.0" y="618" width="3" height="4" fill="#1d5a36"/><rect x="329.0" y="619" width="1" height="2" fill="#68a880"/><rect x="331.0" y="618" width="3" height="8" fill="#641810"/><rect x="332.0" y="619" width="1" height="6" fill="#e2553c"/><rect x="335.0" y="624" width="3" height="2" fill="#1d5a36"/><rect x="338.0" y="624" width="3" height="6" fill="#641810"/><rect x="339.0" y="625" width="1" height="4" fill="#e2553c"/><rect x="342.0" y="622" width="3" height="8" fill="#1d5a36"/><rect x="343.0" y="623" width="1" height="6" fill="#68a880"/><rect x="345.0" y="622" width="3" height="8" fill="#641810"/><rect x="346.0" y="623" width="1" height="6" fill="#e2553c"/><rect x="348.0" y="620" width="3" height="10" fill="#1d5a36"/><rect x="349.0" y="621" width="1" height="8" fill="#68a880"/><rect x="352.0" y="612" width="3" height="9" fill="#1d5a36"/><rect x="353.0" y="613" width="1" height="7" fill="#68a880"/><rect x="355.0" y="612" width="3" height="32" fill="#641810"/><rect x="356.0" y="613" width="1" height="30" fill="#e2553c"/><rect x="359.0" y="636" width="3" height="8" fill="#1d5a36"/><rect x="360.0" y="637" width="1" height="6" fill="#68a880"/><rect x="362.0" y="634" width="3" height="3" fill="#1d5a36"/><rect x="363.0" y="635" width="1" height="1" fill="#68a880"/><rect x="366.0" y="631" width="3" height="4" fill="#1d5a36"/><rect x="367.0" y="632" width="1" height="2" fill="#68a880"/><rect x="369.0" y="631" width="3" height="9" fill="#641810"/><rect x="370.0" y="632" width="1" height="7" fill="#e2553c"/><rect x="372.0" y="628" width="3" height="12" fill="#1d5a36"/><rect x="373.0" y="629" width="1" height="10" fill="#68a880"/><rect x="376.0" y="628" width="3" height="5" fill="#641810"/><rect x="377.0" y="629" width="1" height="3" fill="#e2553c"/><rect x="379.0" y="629" width="3" height="4" fill="#1d5a36"/><rect x="380.0" y="630" width="1" height="2" fill="#68a880"/><rect x="383.0" y="630" width="3" height="1" fill="#641810"/><rect x="386.0" y="618" width="3" height="12" fill="#1d5a36"/><rect x="387.0" y="619" width="1" height="10" fill="#68a880"/><rect x="390.0" y="618" width="3" height="15" fill="#641810"/><rect x="391.0" y="619" width="1" height="13" fill="#e2553c"/><rect x="393.0" y="628" width="3" height="5" fill="#1d5a36"/><rect x="394.0" y="629" width="1" height="3" fill="#68a880"/><rect x="396.0" y="628" width="3" height="6" fill="#641810"/><rect x="397.0" y="629" width="1" height="4" fill="#e2553c"/><rect x="400.0" y="633" width="3" height="9" fill="#641810"/><rect x="401.0" y="634" width="1" height="7" fill="#e2553c"/><rect x="403.0" y="630" width="3" height="12" fill="#1d5a36"/><rect x="404.0" y="631" width="1" height="10" fill="#68a880"/><rect x="407.0" y="630" width="3" height="1" fill="#641810"/><rect x="410.0" y="629" width="3" height="3" fill="#1d5a36"/><rect x="411.0" y="630" width="1" height="1" fill="#68a880"/><rect x="414.0" y="629" width="3" height="1" fill="#641810"/><rect x="417.0" y="620" width="3" height="10" fill="#1d5a36"/><rect x="418.0" y="621" width="1" height="8" fill="#68a880"/><rect x="420.0" y="619" width="3" height="1" fill="#1d5a36"/><rect x="424.0" y="607" width="3" height="13" fill="#1d5a36"/><rect x="425.0" y="608" width="1" height="11" fill="#68a880"/><rect x="427.0" y="608" width="3" height="12" fill="#641810"/><rect x="428.0" y="609" width="1" height="10" fill="#e2553c"/><rect x="431.0" y="617" width="3" height="3" fill="#1d5a36"/><rect x="432.0" y="618" width="1" height="1" fill="#68a880"/><rect x="434.0" y="614" width="3" height="3" fill="#1d5a36"/><rect x="435.0" y="615" width="1" height="1" fill="#68a880"/><rect x="438.0" y="598" width="3" height="17" fill="#1d5a36"/><rect x="439.0" y="599" width="1" height="15" fill="#68a880"/><rect x="441.0" y="599" width="3" height="1" fill="#641810"/><rect x="444.0" y="596" width="3" height="5" fill="#1d5a36"/><rect x="445.0" y="597" width="1" height="3" fill="#68a880"/><rect x="448.0" y="579" width="3" height="17" fill="#1d5a36"/><rect x="449.0" y="580" width="1" height="15" fill="#68a880"/><rect x="451.0" y="581" width="3" height="3" fill="#641810"/><rect x="452.0" y="582" width="1" height="1" fill="#e2553c"/><rect x="455.0" y="583" width="3" height="5" fill="#641810"/><rect x="456.0" y="584" width="1" height="3" fill="#e2553c"/><rect x="458.0" y="588" width="3" height="17" fill="#641810"/><rect x="459.0" y="589" width="1" height="15" fill="#e2553c"/><rect x="462.0" y="602" width="3" height="3" fill="#641810"/><rect x="463.0" y="603" width="1" height="1" fill="#e2553c"/><rect x="465.0" y="600" width="3" height="5" fill="#1d5a36"/><rect x="466.0" y="601" width="1" height="3" fill="#68a880"/><rect x="468.0" y="601" width="3" height="4" fill="#641810"/><rect x="469.0" y="602" width="1" height="2" fill="#e2553c"/><rect x="472.0" y="605" width="3" height="13" fill="#641810"/><rect x="473.0" y="606" width="1" height="11" fill="#e2553c"/><rect x="475.0" y="608" width="3" height="10" fill="#1d5a36"/><rect x="476.0" y="609" width="1" height="8" fill="#68a880"/><rect x="479.0" y="608" width="3" height="2" fill="#641810"/><rect x="482.0" y="600" width="3" height="10" fill="#1d5a36"/><rect x="483.0" y="601" width="1" height="8" fill="#68a880"/><rect x="486.0" y="587" width="3" height="13" fill="#1d5a36"/><rect x="487.0" y="588" width="1" height="11" fill="#68a880"/><rect x="489.0" y="587" width="3" height="1" fill="#641810"/><rect x="492.0" y="587" width="3" height="3" fill="#641810"/><rect x="493.0" y="588" width="1" height="1" fill="#e2553c"/><rect x="496.0" y="589" width="3" height="11" fill="#641810"/><rect x="497.0" y="590" width="1" height="9" fill="#e2553c"/><rect x="499.0" y="600" width="3" height="8" fill="#641810"/><rect x="500.0" y="601" width="1" height="6" fill="#e2553c"/><rect x="503.0" y="607" width="3" height="3" fill="#641810"/><rect x="504.0" y="608" width="1" height="1" fill="#e2553c"/><rect x="506.0" y="594" width="3" height="16" fill="#1d5a36"/><rect x="507.0" y="595" width="1" height="14" fill="#68a880"/><rect x="510.0" y="593" width="3" height="1" fill="#1d5a36"/><rect x="513.0" y="578" width="3" height="16" fill="#1d5a36"/><rect x="514.0" y="579" width="1" height="14" fill="#68a880"/><rect x="516.0" y="579" width="3" height="2" fill="#641810"/><rect x="520.0" y="580" width="3" height="8" fill="#641810"/><rect x="521.0" y="581" width="1" height="6" fill="#e2553c"/><rect x="523.0" y="584" width="3" height="4" fill="#1d5a36"/><rect x="524.0" y="585" width="1" height="2" fill="#68a880"/><rect x="527.0" y="566" width="3" height="19" fill="#1d5a36"/><rect x="528.0" y="567" width="1" height="17" fill="#68a880"/><rect x="530.0" y="567" width="3" height="1" fill="#641810"/><rect x="534.0" y="564" width="3" height="4" fill="#1d5a36"/><rect x="535.0" y="565" width="1" height="2" fill="#68a880"/><rect x="537.0" y="564" width="3" height="1" fill="#641810"/><rect x="540.0" y="565" width="3" height="10" fill="#641810"/><rect x="541.0" y="566" width="1" height="8" fill="#e2553c"/><rect x="544.0" y="564" width="3" height="11" fill="#1d5a36"/><rect x="545.0" y="565" width="1" height="9" fill="#68a880"/><rect x="547.0" y="563" width="3" height="3" fill="#1d5a36"/><rect x="548.0" y="564" width="1" height="1" fill="#68a880"/><rect x="551.0" y="561" width="3" height="2" fill="#1d5a36"/><rect x="554.0" y="560" width="3" height="8" fill="#641810"/><rect x="555.0" y="561" width="1" height="6" fill="#e2553c"/><rect x="558.0" y="561" width="3" height="7" fill="#1d5a36"/><rect x="559.0" y="562" width="1" height="5" fill="#68a880"/><rect x="561.0" y="562" width="3" height="6" fill="#641810"/><rect x="562.0" y="563" width="1" height="4" fill="#e2553c"/><rect x="564.0" y="568" width="3" height="2" fill="#641810"/><rect x="568.0" y="569" width="3" height="3" fill="#641810"/><rect x="569.0" y="570" width="1" height="1" fill="#e2553c"/><rect x="571.0" y="570" width="3" height="2" fill="#1d5a36"/><rect x="575.0" y="563" width="3" height="8" fill="#1d5a36"/><rect x="576.0" y="564" width="1" height="6" fill="#68a880"/><rect x="578.0" y="563" width="3" height="7" fill="#641810"/><rect x="579.0" y="564" width="1" height="5" fill="#e2553c"/><rect x="582.0" y="567" width="3" height="3" fill="#1d5a36"/><rect x="583.0" y="568" width="1" height="1" fill="#68a880"/><rect x="585.0" y="563" width="3" height="4" fill="#1d5a36"/><rect x="586.0" y="564" width="1" height="2" fill="#68a880"/><rect x="588.0" y="563" width="3" height="2" fill="#641810"/><rect x="592.0" y="549" width="3" height="16" fill="#1d5a36"/><rect x="593.0" y="550" width="1" height="14" fill="#68a880"/><rect x="595.0" y="542" width="3" height="8" fill="#1d5a36"/><rect x="596.0" y="543" width="1" height="6" fill="#68a880"/><rect x="599.0" y="541" width="3" height="1" fill="#1d5a36"/><rect x="602.0" y="541" width="3" height="4" fill="#641810"/><rect x="603.0" y="542" width="1" height="2" fill="#e2553c"/><rect x="606.0" y="545" width="3" height="5" fill="#641810"/><rect x="607.0" y="546" width="1" height="3" fill="#e2553c"/><rect x="609.0" y="539" width="3" height="11" fill="#1d5a36"/><rect x="610.0" y="540" width="1" height="9" fill="#68a880"/><rect x="613.0" y="528" width="3" height="12" fill="#1d5a36"/><rect x="614.0" y="529" width="1" height="10" fill="#68a880"/><rect x="616.0" y="526" width="3" height="3" fill="#1d5a36"/><rect x="617.0" y="527" width="1" height="1" fill="#68a880"/><rect x="619.0" y="516" width="3" height="11" fill="#1d5a36"/><rect x="620.0" y="517" width="1" height="9" fill="#68a880"/><rect x="623.0" y="516" width="3" height="1" fill="#641810"/><rect x="626.0" y="511" width="3" height="6" fill="#1d5a36"/><rect x="627.0" y="512" width="1" height="4" fill="#68a880"/><rect x="630.0" y="511" width="3" height="6" fill="#641810"/><rect x="631.0" y="512" width="1" height="4" fill="#e2553c"/><rect x="633.0" y="515" width="3" height="9" fill="#641810"/><rect x="634.0" y="516" width="1" height="7" fill="#e2553c"/><rect x="637.0" y="514" width="3" height="11" fill="#1d5a36"/><rect x="638.0" y="515" width="1" height="9" fill="#68a880"/><rect x="640.0" y="515" width="3" height="1" fill="#641810"/><rect x="643.0" y="516" width="3" height="1" fill="#641810"/><rect x="647.0" y="517" width="3" height="1" fill="#641810"/><rect x="650.0" y="518" width="3" height="4" fill="#641810"/><rect x="651.0" y="519" width="1" height="2" fill="#e2553c"/><rect x="654.0" y="521" width="3" height="7" fill="#641810"/><rect x="655.0" y="522" width="1" height="5" fill="#e2553c"/><rect x="657.0" y="528" width="3" height="4" fill="#641810"/><rect x="658.0" y="529" width="1" height="2" fill="#e2553c"/><rect x="661.0" y="525" width="3" height="8" fill="#1d5a36"/><rect x="662.0" y="526" width="1" height="6" fill="#68a880"/><rect x="664.0" y="516" width="3" height="10" fill="#1d5a36"/><rect x="665.0" y="517" width="1" height="8" fill="#68a880"/><rect x="667.0" y="519" width="3" height="1" fill="#641810"/><rect x="671.0" y="515" width="3" height="5" fill="#1d5a36"/><rect x="672.0" y="516" width="1" height="3" fill="#68a880"/><rect x="674.0" y="511" width="3" height="4" fill="#1d5a36"/><rect x="675.0" y="512" width="1" height="2" fill="#68a880"/><rect x="678.0" y="505" width="3" height="6" fill="#1d5a36"/><rect x="679.0" y="506" width="1" height="4" fill="#68a880"/><rect x="681.0" y="496" width="3" height="10" fill="#1d5a36"/><rect x="682.0" y="497" width="1" height="8" fill="#68a880"/><rect x="685.0" y="495" width="3" height="1" fill="#641810"/><rect x="688.0" y="487" width="3" height="9" fill="#1d5a36"/><rect x="689.0" y="488" width="1" height="7" fill="#68a880"/><rect x="691.0" y="488" width="3" height="11" fill="#641810"/><rect x="692.0" y="489" width="1" height="9" fill="#e2553c"/><rect x="695.0" y="491" width="3" height="6" fill="#1d5a36"/><rect x="696.0" y="492" width="1" height="4" fill="#68a880"/><rect x="698.0" y="488" width="3" height="3" fill="#1d5a36"/><rect x="699.0" y="489" width="1" height="1" fill="#68a880"/><rect x="702.0" y="489" width="3" height="3" fill="#1d5a36"/><rect x="703.0" y="490" width="1" height="1" fill="#68a880"/><rect x="705.0" y="479" width="3" height="11" fill="#1d5a36"/><rect x="706.0" y="480" width="1" height="9" fill="#68a880"/><rect x="709.0" y="475" width="3" height="4" fill="#1d5a36"/><rect x="710.0" y="476" width="1" height="2" fill="#68a880"/><rect x="712.0" y="475" width="3" height="14" fill="#641810"/><rect x="713.0" y="476" width="1" height="12" fill="#e2553c"/><rect x="715.0" y="489" width="3" height="2" fill="#641810"/><rect x="719.0" y="491" width="3" height="1" fill="#641810"/><rect x="722.0" y="489" width="3" height="3" fill="#1d5a36"/><rect x="723.0" y="490" width="1" height="1" fill="#68a880"/><rect x="726.0" y="489" width="3" height="28" fill="#641810"/><rect x="727.0" y="490" width="1" height="26" fill="#e2553c"/><rect x="729.0" y="500" width="3" height="16" fill="#1d5a36"/><rect x="730.0" y="501" width="1" height="14" fill="#68a880"/><rect x="733.0" y="501" width="3" height="7" fill="#641810"/><rect x="734.0" y="502" width="1" height="5" fill="#e2553c"/><rect x="736.0" y="508" width="3" height="22" fill="#641810"/><rect x="737.0" y="509" width="1" height="20" fill="#e2553c"/><rect x="739.0" y="528" width="3" height="9" fill="#641810"/><rect x="740.0" y="529" width="1" height="7" fill="#e2553c"/><rect x="743.0" y="536" width="3" height="8" fill="#641810"/><rect x="744.0" y="537" width="1" height="6" fill="#e2553c"/><rect x="746.0" y="544" width="3" height="4" fill="#641810"/><rect x="747.0" y="545" width="1" height="2" fill="#e2553c"/><rect x="750.0" y="546" width="3" height="1" fill="#641810"/><rect x="753.0" y="531" width="3" height="16" fill="#1d5a36"/><rect x="754.0" y="532" width="1" height="14" fill="#68a880"/><rect x="757.0" y="524" width="3" height="7" fill="#1d5a36"/><rect x="758.0" y="525" width="1" height="5" fill="#68a880"/><rect x="760.0" y="519" width="3" height="6" fill="#1d5a36"/><rect x="761.0" y="520" width="1" height="4" fill="#68a880"/><rect x="763.0" y="512" width="3" height="8" fill="#1d5a36"/><rect x="764.0" y="513" width="1" height="6" fill="#68a880"/><rect x="767.0" y="497" width="3" height="15" fill="#1d5a36"/><rect x="768.0" y="498" width="1" height="13" fill="#68a880"/><rect x="770.0" y="499" width="3" height="29" fill="#641810"/><rect x="771.0" y="500" width="1" height="27" fill="#e2553c"/><rect x="774.0" y="524" width="3" height="3" fill="#1d5a36"/><rect x="775.0" y="525" width="1" height="1" fill="#68a880"/><rect x="777.0" y="523" width="3" height="3" fill="#1d5a36"/><rect x="778.0" y="524" width="1" height="1" fill="#68a880"/><rect x="781.0" y="523" width="3" height="1" fill="#641810"/><rect x="784.0" y="519" width="3" height="4" fill="#1d5a36"/><rect x="785.0" y="520" width="1" height="2" fill="#68a880"/><rect x="787.0" y="519" width="3" height="4" fill="#641810"/><rect x="788.0" y="520" width="1" height="2" fill="#e2553c"/><rect x="791.0" y="521" width="3" height="1" fill="#1d5a36"/><rect x="794.0" y="519" width="3" height="3" fill="#1d5a36"/><rect x="795.0" y="520" width="1" height="1" fill="#68a880"/><rect x="798.0" y="519" width="3" height="7" fill="#641810"/><rect x="799.0" y="520" width="1" height="5" fill="#e2553c"/><rect x="801.0" y="524" width="3" height="1" fill="#1d5a36"/><rect x="805.0" y="516" width="3" height="6" fill="#1d5a36"/><rect x="806.0" y="517" width="1" height="4" fill="#68a880"/><rect x="808.0" y="505" width="3" height="10" fill="#1d5a36"/><rect x="809.0" y="506" width="1" height="8" fill="#68a880"/><rect x="811.0" y="497" width="3" height="8" fill="#1d5a36"/><rect x="812.0" y="498" width="1" height="6" fill="#68a880"/><rect x="815.0" y="497" width="3" height="12" fill="#641810"/><rect x="816.0" y="498" width="1" height="10" fill="#e2553c"/><rect x="818.0" y="509" width="3" height="11" fill="#641810"/><rect x="819.0" y="510" width="1" height="9" fill="#e2553c"/><rect x="822.0" y="518" width="3" height="1" fill="#1d5a36"/><rect x="825.0" y="518" width="3" height="3" fill="#641810"/><rect x="826.0" y="519" width="1" height="1" fill="#e2553c"/><rect x="829.0" y="520" width="3" height="21" fill="#641810"/><rect x="830.0" y="521" width="1" height="19" fill="#e2553c"/><rect x="832.0" y="537" width="3" height="3" fill="#1d5a36"/><rect x="833.0" y="538" width="1" height="1" fill="#68a880"/><rect x="835.0" y="527" width="3" height="11" fill="#1d5a36"/><rect x="836.0" y="528" width="1" height="9" fill="#68a880"/><rect x="839.0" y="528" width="3" height="3" fill="#641810"/><rect x="840.0" y="529" width="1" height="1" fill="#e2553c"/><rect x="842.0" y="529" width="3" height="1" fill="#1d5a36"/><rect x="846.0" y="524" width="3" height="6" fill="#1d5a36"/><rect x="847.0" y="525" width="1" height="4" fill="#68a880"/><rect x="849.0" y="524" width="3" height="4" fill="#641810"/><rect x="850.0" y="525" width="1" height="2" fill="#e2553c"/><rect x="853.0" y="528" width="3" height="6" fill="#641810"/><rect x="854.0" y="529" width="1" height="4" fill="#e2553c"/><rect x="856.0" y="527" width="3" height="7" fill="#1d5a36"/><rect x="857.0" y="528" width="1" height="5" fill="#68a880"/><rect x="859.0" y="516" width="3" height="11" fill="#1d5a36"/><rect x="860.0" y="517" width="1" height="9" fill="#68a880"/><rect x="863.0" y="516" width="3" height="6" fill="#641810"/><rect x="864.0" y="517" width="1" height="4" fill="#e2553c"/><rect x="866.0" y="522" width="3" height="1" fill="#641810"/><rect x="870.0" y="519" width="3" height="4" fill="#1d5a36"/><rect x="871.0" y="520" width="1" height="2" fill="#68a880"/><rect x="873.0" y="515" width="3" height="5" fill="#1d5a36"/><rect x="874.0" y="516" width="1" height="3" fill="#68a880"/><rect x="877.0" y="512" width="3" height="4" fill="#1d5a36"/><rect x="878.0" y="513" width="1" height="2" fill="#68a880"/><rect x="880.0" y="506" width="3" height="7" fill="#1d5a36"/><rect x="881.0" y="507" width="1" height="5" fill="#68a880"/><rect x="883.0" y="506" width="3" height="9" fill="#641810"/><rect x="884.0" y="507" width="1" height="7" fill="#e2553c"/><rect x="887.0" y="510" width="3" height="5" fill="#1d5a36"/><rect x="888.0" y="511" width="1" height="3" fill="#68a880"/><rect x="890.0" y="504" width="3" height="6" fill="#1d5a36"/><rect x="891.0" y="505" width="1" height="4" fill="#68a880"/><rect x="894.0" y="498" width="3" height="7" fill="#1d5a36"/><rect x="895.0" y="499" width="1" height="5" fill="#68a880"/><rect x="897.0" y="498" width="3" height="4" fill="#641810"/><rect x="898.0" y="499" width="1" height="2" fill="#e2553c"/><rect x="901.0" y="500" width="3" height="2" fill="#1d5a36"/><rect x="904.0" y="488" width="3" height="12" fill="#1d5a36"/><rect x="905.0" y="489" width="1" height="10" fill="#68a880"/><rect x="908.0" y="485" width="3" height="5" fill="#1d5a36"/><rect x="909.0" y="486" width="1" height="3" fill="#68a880"/><rect x="911.0" y="485" width="3" height="1" fill="#641810"/><rect x="914.0" y="480" width="3" height="6" fill="#1d5a36"/><rect x="915.0" y="481" width="1" height="4" fill="#68a880"/><rect x="918.0" y="482" width="3" height="8" fill="#641810"/><rect x="919.0" y="483" width="1" height="6" fill="#e2553c"/><rect x="921.0" y="483" width="3" height="8" fill="#1d5a36"/><rect x="922.0" y="484" width="1" height="6" fill="#68a880"/><rect x="925.0" y="483" width="3" height="1" fill="#641810"/><rect x="928.0" y="473" width="3" height="11" fill="#1d5a36"/><rect x="929.0" y="474" width="1" height="9" fill="#68a880"/><rect x="932.0" y="472" width="3" height="1" fill="#1d5a36"/><rect x="935.0" y="467" width="3" height="4" fill="#1d5a36"/><rect x="936.0" y="468" width="1" height="2" fill="#68a880"/><rect x="938.0" y="458" width="3" height="10" fill="#1d5a36"/><rect x="939.0" y="459" width="1" height="8" fill="#68a880"/><rect x="942.0" y="451" width="3" height="9" fill="#1d5a36"/><rect x="943.0" y="452" width="1" height="7" fill="#68a880"/><rect x="945.0" y="451" width="3" height="4" fill="#641810"/><rect x="946.0" y="452" width="1" height="2" fill="#e2553c"/><rect x="949.0" y="453" width="3" height="1" fill="#1d5a36"/><rect x="952.0" y="439" width="3" height="15" fill="#1d5a36"/><rect x="953.0" y="440" width="1" height="13" fill="#68a880"/><rect x="956.0" y="438" width="3" height="5" fill="#641810"/><rect x="957.0" y="439" width="1" height="3" fill="#e2553c"/><rect x="959.0" y="440" width="3" height="3" fill="#1d5a36"/><rect x="960.0" y="441" width="1" height="1" fill="#68a880"/><rect x="962.0" y="433" width="3" height="8" fill="#1d5a36"/><rect x="963.0" y="434" width="1" height="6" fill="#68a880"/><rect x="966.0" y="433" width="3" height="14" fill="#641810"/><rect x="967.0" y="434" width="1" height="12" fill="#e2553c"/><rect x="969.0" y="442" width="3" height="1" fill="#1d5a36"/><rect x="973.0" y="431" width="3" height="12" fill="#1d5a36"/><rect x="974.0" y="432" width="1" height="10" fill="#68a880"/><rect x="976.0" y="431" width="3" height="1" fill="#641810"/><rect x="980.0" y="430" width="3" height="1" fill="#1d5a36"/><rect x="983.0" y="430" width="3" height="1" fill="#641810"/><rect x="986.0" y="426" width="3" height="4" fill="#1d5a36"/><rect x="987.0" y="427" width="1" height="2" fill="#68a880"/><rect x="990.0" y="426" width="3" height="11" fill="#641810"/><rect x="991.0" y="427" width="1" height="9" fill="#e2553c"/><rect x="993.0" y="436" width="3" height="1" fill="#1d5a36"/><rect x="997.0" y="436" width="3" height="13" fill="#641810"/><rect x="998.0" y="437" width="1" height="11" fill="#e2553c"/><rect x="1000.0" y="449" width="3" height="6" fill="#641810"/><rect x="1001.0" y="450" width="1" height="4" fill="#e2553c"/><rect x="1004.0" y="443" width="3" height="7" fill="#1d5a36"/><rect x="1005.0" y="444" width="1" height="5" fill="#68a880"/><rect x="1007.0" y="436" width="3" height="7" fill="#1d5a36"/><rect x="1008.0" y="437" width="1" height="5" fill="#68a880"/><rect x="1010.0" y="435" width="3" height="1" fill="#1d5a36"/><rect x="1014.0" y="436" width="3" height="2" fill="#641810"/><rect x="1017.0" y="437" width="3" height="1" fill="#641810"/><rect x="1021.0" y="437" width="3" height="7" fill="#641810"/><rect x="1022.0" y="438" width="1" height="5" fill="#e2553c"/><rect x="1024.0" y="437" width="3" height="7" fill="#1d5a36"/><rect x="1025.0" y="438" width="1" height="5" fill="#68a880"/><rect x="1028.0" y="431" width="3" height="6" fill="#1d5a36"/><rect x="1029.0" y="432" width="1" height="4" fill="#68a880"/><rect x="1031.0" y="416" width="3" height="15" fill="#1d5a36"/><rect x="1032.0" y="417" width="1" height="13" fill="#68a880"/><rect x="1034.0" y="416" width="3" height="1" fill="#1d5a36"/><rect x="1038.0" y="412" width="3" height="4" fill="#1d5a36"/><rect x="1039.0" y="413" width="1" height="2" fill="#68a880"/><rect x="1041.0" y="402" width="3" height="10" fill="#1d5a36"/><rect x="1042.0" y="403" width="1" height="8" fill="#68a880"/><rect x="1045.0" y="399" width="3" height="4" fill="#1d5a36"/><rect x="1046.0" y="400" width="1" height="2" fill="#68a880"/><rect x="1048.0" y="399" width="3" height="1" fill="#641810"/><rect x="1052.0" y="399" width="3" height="7" fill="#641810"/><rect x="1053.0" y="400" width="1" height="5" fill="#e2553c"/><rect x="1055.0" y="405" width="3" height="4" fill="#641810"/><rect x="1056.0" y="406" width="1" height="2" fill="#e2553c"/><rect x="1058.0" y="406" width="3" height="3" fill="#1d5a36"/><rect x="1059.0" y="407" width="1" height="1" fill="#68a880"/><rect x="1062.0" y="406" width="3" height="1" fill="#641810"/><rect x="1065.0" y="396" width="3" height="10" fill="#1d5a36"/><rect x="1066.0" y="397" width="1" height="8" fill="#68a880"/><rect x="1069.0" y="388" width="3" height="8" fill="#1d5a36"/><rect x="1070.0" y="389" width="1" height="6" fill="#68a880"/><rect x="1072.0" y="377" width="3" height="9" fill="#1d5a36"/><rect x="1073.0" y="378" width="1" height="7" fill="#68a880"/><rect x="1076.0" y="377" width="3" height="3" fill="#641810"/><rect x="1077.0" y="378" width="1" height="1" fill="#e2553c"/><rect x="1079.0" y="374" width="3" height="7" fill="#1d5a36"/><rect x="1080.0" y="375" width="1" height="5" fill="#68a880"/><rect x="1082.0" y="375" width="3" height="6" fill="#641810"/><rect x="1083.0" y="376" width="1" height="4" fill="#e2553c"/><rect x="1086.0" y="380" width="3" height="22" fill="#641810"/><rect x="1087.0" y="381" width="1" height="20" fill="#e2553c"/><rect x="1089.0" y="403" width="3" height="14" fill="#641810"/><rect x="1090.0" y="404" width="1" height="12" fill="#e2553c"/><rect x="1093.0" y="416" width="3" height="1" fill="#1d5a36"/><rect x="1096.0" y="389" width="3" height="28" fill="#1d5a36"/><rect x="1097.0" y="390" width="1" height="26" fill="#68a880"/><rect x="1100.0" y="363" width="3" height="27" fill="#1d5a36"/><rect x="1101.0" y="364" width="1" height="25" fill="#68a880"/><rect x="1103.0" y="346" width="3" height="16" fill="#1d5a36"/><rect x="1104.0" y="347" width="1" height="14" fill="#68a880"/><rect x="1106.0" y="350" width="3" height="4" fill="#641810"/><rect x="1107.0" y="351" width="1" height="2" fill="#e2553c"/><rect x="1110.0" y="349" width="3" height="4" fill="#1d5a36"/><rect x="1111.0" y="350" width="1" height="2" fill="#68a880"/><rect x="1113.0" y="319" width="3" height="30" fill="#1d5a36"/><rect x="1114.0" y="320" width="1" height="28" fill="#68a880"/><rect x="1117.0" y="318" width="3" height="5" fill="#641810"/><rect x="1118.0" y="319" width="1" height="3" fill="#e2553c"/><rect x="1120.0" y="298" width="3" height="25" fill="#1d5a36"/><rect x="1121.0" y="299" width="1" height="23" fill="#68a880"/><rect x="1124.0" y="297" width="3" height="13" fill="#641810"/><rect x="1125.0" y="298" width="1" height="11" fill="#e2553c"/><rect x="1127.0" y="324" width="3" height="10" fill="#641810"/><rect x="1128.0" y="325" width="1" height="8" fill="#e2553c"/><rect x="1130.0" y="317" width="3" height="13" fill="#1d5a36"/><rect x="1131.0" y="318" width="1" height="11" fill="#68a880"/><rect x="1134.0" y="318" width="3" height="7" fill="#641810"/><rect x="1135.0" y="319" width="1" height="5" fill="#e2553c"/><rect x="1137.0" y="319" width="3" height="4" fill="#1d5a36"/><rect x="1138.0" y="320" width="1" height="2" fill="#68a880"/><rect x="1141.0" y="318" width="3" height="9" fill="#641810"/><rect x="1142.0" y="319" width="1" height="7" fill="#e2553c"/><rect x="1144.0" y="325" width="3" height="9" fill="#641810"/><rect x="1145.0" y="326" width="1" height="7" fill="#e2553c"/><rect x="1148.0" y="334" width="3" height="13" fill="#641810"/><rect x="1149.0" y="335" width="1" height="11" fill="#e2553c"/><rect x="1151.0" y="346" width="3" height="1" fill="#1d5a36"/><rect x="1154.0" y="321" width="3" height="26" fill="#1d5a36"/><rect x="1155.0" y="322" width="1" height="24" fill="#68a880"/><rect x="1158.0" y="297" width="3" height="24" fill="#1d5a36"/><rect x="1159.0" y="298" width="1" height="22" fill="#68a880"/><rect x="1161.0" y="300" width="3" height="13" fill="#641810"/><rect x="1162.0" y="301" width="1" height="11" fill="#e2553c"/><rect x="1165.0" y="311" width="3" height="19" fill="#641810"/><rect x="1166.0" y="312" width="1" height="17" fill="#e2553c"/><rect x="1168.0" y="323" width="3" height="5" fill="#1d5a36"/><rect x="1169.0" y="324" width="1" height="3" fill="#68a880"/><rect x="1172.0" y="323" width="3" height="25" fill="#641810"/><rect x="1173.0" y="324" width="1" height="23" fill="#e2553c"/><rect x="1175.0" y="343" width="3" height="4" fill="#1d5a36"/><rect x="1176.0" y="344" width="1" height="2" fill="#68a880"/><rect x="1178.0" y="343" width="3" height="21" fill="#641810"/><rect x="1179.0" y="344" width="1" height="19" fill="#e2553c"/><rect x="1182.0" y="346" width="3" height="17" fill="#1d5a36"/><rect x="1183.0" y="347" width="1" height="15" fill="#68a880"/><rect x="1185.0" y="345" width="3" height="10" fill="#641810"/><rect x="1186.0" y="346" width="1" height="8" fill="#e2553c"/><rect x="1189.0" y="348" width="3" height="5" fill="#1d5a36"/><rect x="1190.0" y="349" width="1" height="3" fill="#68a880"/><rect x="1192.0" y="333" width="3" height="17" fill="#1d5a36"/><rect x="1193.0" y="334" width="1" height="15" fill="#68a880"/><rect x="1196.0" y="326" width="3" height="7" fill="#1d5a36"/><rect x="1197.0" y="327" width="1" height="5" fill="#68a880"/><rect x="1199.0" y="326" width="3" height="6" fill="#641810"/><rect x="1200.0" y="327" width="1" height="4" fill="#e2553c"/><rect x="1203.0" y="315" width="3" height="17" fill="#1d5a36"/><rect x="1204.0" y="316" width="1" height="15" fill="#68a880"/><rect x="1206.0" y="317" width="3" height="3" fill="#641810"/><rect x="1207.0" y="318" width="1" height="1" fill="#e2553c"/><rect x="1209.0" y="318" width="3" height="13" fill="#641810"/><rect x="1210.0" y="319" width="1" height="11" fill="#e2553c"/><rect x="1213.0" y="330" width="3" height="4" fill="#641810"/><rect x="1214.0" y="331" width="1" height="2" fill="#e2553c"/><rect x="1216.0" y="326" width="3" height="8" fill="#1d5a36"/><rect x="1217.0" y="327" width="1" height="6" fill="#68a880"/><rect x="1220.0" y="325" width="3" height="9" fill="#641810"/><rect x="1221.0" y="326" width="1" height="7" fill="#e2553c"/><rect x="1223.0" y="309" width="3" height="21" fill="#1d5a36"/><rect x="1224.0" y="310" width="1" height="19" fill="#68a880"/><rect x="1227.0" y="308" width="3" height="8" fill="#641810"/><rect x="1228.0" y="309" width="1" height="6" fill="#e2553c"/><rect x="1230.0" y="312" width="3" height="4" fill="#1d5a36"/><rect x="1231.0" y="313" width="1" height="2" fill="#68a880"/><rect x="1233.0" y="312" width="3" height="4" fill="#641810"/><rect x="1234.0" y="313" width="1" height="2" fill="#e2553c"/><rect x="1237.0" y="316" width="3" height="12" fill="#641810"/><rect x="1238.0" y="317" width="1" height="10" fill="#e2553c"/><rect x="1240.0" y="323" width="3" height="3" fill="#1d5a36"/><rect x="1241.0" y="324" width="1" height="1" fill="#68a880"/><rect x="1244.0" y="324" width="3" height="1" fill="#641810"/><rect x="1247.0" y="316" width="3" height="9" fill="#1d5a36"/><rect x="1248.0" y="317" width="1" height="7" fill="#68a880"/><rect x="1251.0" y="308" width="3" height="8" fill="#1d5a36"/><rect x="1252.0" y="309" width="1" height="6" fill="#68a880"/><rect x="1254.0" y="296" width="3" height="13" fill="#1d5a36"/><rect x="1255.0" y="297" width="1" height="11" fill="#68a880"/><rect x="1257.0" y="294" width="3" height="15" fill="#641810"/><rect x="1258.0" y="295" width="1" height="13" fill="#e2553c"/><rect x="1261.0" y="307" width="3" height="1" fill="#1d5a36"/><rect x="1264.0" y="305" width="3" height="8" fill="#641810"/><rect x="1265.0" y="306" width="1" height="6" fill="#e2553c"/><rect x="1268.0" y="312" width="3" height="1" fill="#641810"/><rect x="1271.0" y="312" width="3" height="1" fill="#641810"/><rect x="1275.0" y="309" width="3" height="4" fill="#641810"/><rect x="1276.0" y="310" width="1" height="2" fill="#e2553c"/><rect x="1278.0" y="315" width="3" height="10" fill="#641810"/><rect x="1279.0" y="316" width="1" height="8" fill="#e2553c"/><rect x="1281.0" y="322" width="3" height="3" fill="#1d5a36"/><rect x="1282.0" y="323" width="1" height="1" fill="#68a880"/><rect x="1285.0" y="321" width="3" height="2" fill="#641810"/><rect x="1288.0" y="324" width="3" height="14" fill="#641810"/><rect x="1289.0" y="325" width="1" height="12" fill="#e2553c"/><rect x="1292.0" y="329" width="3" height="9" fill="#1d5a36"/><rect x="1293.0" y="330" width="1" height="7" fill="#68a880"/><rect x="1295.0" y="321" width="3" height="9" fill="#1d5a36"/><rect x="1296.0" y="322" width="1" height="7" fill="#68a880"/><rect x="1299.0" y="315" width="3" height="6" fill="#1d5a36"/><rect x="1300.0" y="316" width="1" height="4" fill="#68a880"/><rect x="1302.0" y="315" width="3" height="9" fill="#641810"/><rect x="1303.0" y="316" width="1" height="7" fill="#e2553c"/><rect x="1305.0" y="321" width="3" height="3" fill="#1d5a36"/><rect x="1306.0" y="322" width="1" height="1" fill="#68a880"/><rect x="1309.0" y="319" width="3" height="2" fill="#641810"/><rect x="1312.0" y="320" width="3" height="11" fill="#641810"/><rect x="1313.0" y="321" width="1" height="9" fill="#e2553c"/><rect x="1316.0" y="327" width="3" height="3" fill="#1d5a36"/><rect x="1317.0" y="328" width="1" height="1" fill="#68a880"/><rect x="1319.0" y="324" width="3" height="2" fill="#1d5a36"/><rect x="1323.0" y="316" width="3" height="7" fill="#1d5a36"/><rect x="1324.0" y="317" width="1" height="5" fill="#68a880"/><rect x="1326.0" y="314" width="3" height="6" fill="#641810"/><rect x="1327.0" y="315" width="1" height="4" fill="#e2553c"/><rect x="1329.0" y="319" width="3" height="5" fill="#641810"/><rect x="1330.0" y="320" width="1" height="3" fill="#e2553c"/><rect x="1333.0" y="318" width="3" height="6" fill="#1d5a36"/><rect x="1334.0" y="319" width="1" height="4" fill="#68a880"/><rect x="1336.0" y="317" width="3" height="4" fill="#641810"/><rect x="1337.0" y="318" width="1" height="2" fill="#e2553c"/><rect x="1340.0" y="317" width="3" height="3" fill="#1d5a36"/><rect x="1341.0" y="318" width="1" height="1" fill="#68a880"/><rect x="1343.0" y="305" width="3" height="13" fill="#1d5a36"/><rect x="1344.0" y="306" width="1" height="11" fill="#68a880"/><rect x="1347.0" y="296" width="3" height="9" fill="#1d5a36"/><rect x="1348.0" y="297" width="1" height="7" fill="#68a880"/><rect x="1350.0" y="297" width="3" height="11" fill="#641810"/><rect x="1351.0" y="298" width="1" height="9" fill="#e2553c"/><rect x="1353.0" y="307" width="3" height="5" fill="#641810"/><rect x="1354.0" y="308" width="1" height="3" fill="#e2553c"/><rect x="1357.0" y="312" width="3" height="9" fill="#641810"/><rect x="1358.0" y="313" width="1" height="7" fill="#e2553c"/><rect x="1360.0" y="322" width="3" height="4" fill="#641810"/><rect x="1361.0" y="323" width="1" height="2" fill="#e2553c"/><rect x="1364.0" y="323" width="3" height="3" fill="#1d5a36"/><rect x="1365.0" y="324" width="1" height="1" fill="#68a880"/><rect x="1367.0" y="323" width="3" height="14" fill="#641810"/><rect x="1368.0" y="324" width="1" height="12" fill="#e2553c"/><rect x="1371.0" y="333" width="3" height="4" fill="#1d5a36"/><rect x="1372.0" y="334" width="1" height="2" fill="#68a880"/><rect x="1374.0" y="314" width="3" height="19" fill="#1d5a36"/><rect x="1375.0" y="315" width="1" height="17" fill="#68a880"/><rect x="1377.0" y="311" width="3" height="3" fill="#1d5a36"/><rect x="1378.0" y="312" width="1" height="1" fill="#68a880"/><rect x="1381.0" y="309" width="3" height="1" fill="#1d5a36"/><rect x="1384.0" y="309" width="3" height="3" fill="#641810"/><rect x="1385.0" y="310" width="1" height="1" fill="#e2553c"/><rect x="1388.0" y="305" width="3" height="7" fill="#1d5a36"/><rect x="1389.0" y="306" width="1" height="5" fill="#68a880"/><rect x="1391.0" y="304" width="3" height="1" fill="#641810"/><rect x="1395.0" y="304" width="3" height="16" fill="#641810"/><rect x="1396.0" y="305" width="1" height="14" fill="#e2553c"/><rect x="1398.0" y="318" width="3" height="1" fill="#1d5a36"/><rect x="1401.0" y="317" width="3" height="1" fill="#1d5a36"/><rect x="1405.0" y="315" width="3" height="6" fill="#641810"/><rect x="1406.0" y="316" width="1" height="4" fill="#e2553c"/><rect x="1408.0" y="321" width="3" height="1" fill="#641810"/><rect x="1412.0" y="321" width="3" height="1" fill="#641810"/><rect x="1415.0" y="322" width="3" height="4" fill="#641810"/><rect x="1416.0" y="323" width="1" height="2" fill="#e2553c"/><rect x="1419.0" y="318" width="3" height="8" fill="#1d5a36"/><rect x="1420.0" y="319" width="1" height="6" fill="#68a880"/><rect x="1422.0" y="318" width="3" height="2" fill="#641810"/><rect x="1425.0" y="312" width="3" height="8" fill="#1d5a36"/><rect x="1426.0" y="313" width="1" height="6" fill="#68a880"/><rect x="1429.0" y="312" width="3" height="1" fill="#641810"/><rect x="1432.0" y="306" width="3" height="8" fill="#1d5a36"/><rect x="1433.0" y="307" width="1" height="6" fill="#68a880"/><rect x="1436.0" y="305" width="3" height="3" fill="#1d5a36"/><rect x="1437.0" y="306" width="1" height="1" fill="#68a880"/><rect x="1439.0" y="300" width="3" height="5" fill="#1d5a36"/><rect x="1440.0" y="301" width="1" height="3" fill="#68a880"/><rect x="1443.0" y="293" width="3" height="7" fill="#1d5a36"/><rect x="1444.0" y="294" width="1" height="5" fill="#68a880"/><rect x="1446.0" y="285" width="3" height="9" fill="#1d5a36"/><rect x="1447.0" y="286" width="1" height="7" fill="#68a880"/><rect x="1449.0" y="271" width="3" height="14" fill="#1d5a36"/><rect x="1450.0" y="272" width="1" height="12" fill="#68a880"/><rect x="1453.0" y="266" width="3" height="6" fill="#1d5a36"/><rect x="1454.0" y="267" width="1" height="4" fill="#68a880"/><rect x="1456.0" y="266" width="3" height="3" fill="#641810"/><rect x="1457.0" y="267" width="1" height="1" fill="#e2553c"/><rect x="1460.0" y="259" width="3" height="10" fill="#1d5a36"/><rect x="1461.0" y="260" width="1" height="8" fill="#68a880"/><rect x="1463.0" y="247" width="3" height="11" fill="#1d5a36"/><rect x="1464.0" y="248" width="1" height="9" fill="#68a880"/><rect x="1467.0" y="247" width="3" height="2" fill="#641810"/><rect x="1470.0" y="246" width="3" height="3" fill="#1d5a36"/><rect x="1471.0" y="247" width="1" height="1" fill="#68a880"/><rect x="1473.0" y="245" width="3" height="2" fill="#641810"/><rect x="1477.0" y="245" width="3" height="2" fill="#1d5a36"/><rect x="1480.0" y="237" width="3" height="8" fill="#1d5a36"/><rect x="1481.0" y="238" width="1" height="6" fill="#68a880"/><rect x="1484.0" y="235" width="3" height="1" fill="#1d5a36"/><rect x="1487.0" y="234" width="3" height="8" fill="#641810"/><rect x="1488.0" y="235" width="1" height="6" fill="#e2553c"/><rect x="1491.0" y="241" width="3" height="4" fill="#641810"/><rect x="1492.0" y="242" width="1" height="2" fill="#e2553c"/><rect x="1494.0" y="235" width="3" height="11" fill="#1d5a36"/><rect x="1495.0" y="236" width="1" height="9" fill="#68a880"/><rect x="1498.0" y="221" width="3" height="14" fill="#1d5a36"/><rect x="1499.0" y="222" width="1" height="12" fill="#68a880"/><rect x="1501.0" y="217" width="3" height="5" fill="#1d5a36"/><rect x="1502.0" y="218" width="1" height="3" fill="#68a880"/><rect x="1504.0" y="217" width="3" height="7" fill="#641810"/><rect x="1505.0" y="218" width="1" height="5" fill="#e2553c"/><rect x="1508.0" y="220" width="3" height="4" fill="#1d5a36"/><rect x="1509.0" y="221" width="1" height="2" fill="#68a880"/><rect x="1511.0" y="218" width="3" height="4" fill="#1d5a36"/><rect x="1512.0" y="219" width="1" height="2" fill="#68a880"/><rect x="1515.0" y="201" width="3" height="16" fill="#1d5a36"/><rect x="1516.0" y="202" width="1" height="14" fill="#68a880"/><rect x="1518.0" y="196" width="3" height="5" fill="#1d5a36"/><rect x="1519.0" y="197" width="1" height="3" fill="#68a880"/><rect x="1522.0" y="194" width="3" height="1" fill="#1d5a36"/><rect x="1525.0" y="194" width="3" height="3" fill="#641810"/><rect x="1526.0" y="195" width="1" height="1" fill="#e2553c"/><rect x="1528.0" y="189" width="3" height="8" fill="#1d5a36"/><rect x="1529.0" y="190" width="1" height="6" fill="#68a880"/><rect x="1532.0" y="173" width="3" height="16" fill="#1d5a36"/><rect x="1533.0" y="174" width="1" height="14" fill="#68a880"/><rect x="1535.0" y="168" width="3" height="5" fill="#1d5a36"/><rect x="1536.0" y="169" width="1" height="3" fill="#68a880"/><rect x="1539.0" y="156" width="3" height="13" fill="#1d5a36"/><rect x="1540.0" y="157" width="1" height="11" fill="#68a880"/><rect x="1542.0" y="157" width="3" height="13" fill="#641810"/><rect x="1543.0" y="158" width="1" height="11" fill="#e2553c"/><rect x="1546.0" y="161" width="3" height="9" fill="#1d5a36"/><rect x="1547.0" y="162" width="1" height="7" fill="#68a880"/><rect x="1549.0" y="141" width="3" height="20" fill="#1d5a36"/><rect x="1550.0" y="142" width="1" height="18" fill="#68a880"/><rect x="1552.0" y="135" width="3" height="7" fill="#1d5a36"/><rect x="1553.0" y="136" width="1" height="5" fill="#68a880"/><rect x="1556.0" y="121" width="3" height="14" fill="#1d5a36"/><rect x="1557.0" y="122" width="1" height="12" fill="#68a880"/><rect x="1559.0" y="97" width="3" height="24" fill="#1d5a36"/><rect x="1560.0" y="98" width="1" height="22" fill="#68a880"/><rect x="1563.0" y="89" width="3" height="6" fill="#1d5a36"/><rect x="1564.0" y="90" width="1" height="4" fill="#68a880"/></g>
<line x1="332.8" y1="620.8" x2="1608.8" y2="126.3" stroke="#ffffff" stroke-width="3.6" stroke-opacity="0.6"/>
<line x1="332.8" y1="620.8" x2="1608.8" y2="126.3" stroke="#2a2230" stroke-width="2.2"/>
<line x1="754" y1="496.3" x2="966" y2="496.3" stroke="#5d606b" stroke-width="1.2" stroke-dasharray="6 4"/>
<path d="M730.1,547.3 Q748.3,566.5 764.7,548.1" fill="none" stroke="#4a4d57" stroke-width="1.4"/>
<path d="M825.8,531.7 Q845.9,550.7 861.2,534.1" fill="none" stroke="#4a4d57" stroke-width="1.4"/>
<line x1="1457.1" y1="239.1" x2="1501.6" y2="229.6" stroke="#f23645" stroke-width="1.2" stroke-dasharray="5 5.5"/>
<line x1="1457.1" y1="256.6" x2="1501.6" y2="247.3" stroke="#f23645" stroke-width="1.2" stroke-dasharray="5 5.5"/>
<circle cx="1557.1" cy="147.1" r="16.1" fill="none" stroke="#ff9800" stroke-width="1.3"/>
<path d="M229.3,477.7 H421.4 Q431.4,477.7 431.4,487.7 V507.6 L490.6,558.7 L421,517.5 H229.3 Q219.3,517.5 219.3,507.5 V487.7 Q219.3,477.7 229.3,477.7 Z" fill="#2a2e39" stroke="#2a2ad6" stroke-width="1"/>
<text x="232" y="502.5" font-size="14" font-weight="700" fill="#ffffff" textLength="186.6" lengthAdjust="spacingAndGlyphs">Ascending broadening wedge</text>
<path d="M1401.4,108 H1471.4 Q1481.4,108 1481.4,118 V118.2 L1553.1,133.8 L1481.4,137.4 Q1481.4,147.4 1471.4,147.4 H1401.4 Q1391.4,147.4 1391.4,137.4 V118 Q1391.4,108 1401.4,108 Z" fill="#2d2d2f" stroke="#2a2ad6" stroke-width="1"/>
<text x="1404.8" y="131.9" font-size="14" font-weight="700" fill="#ffffff" textLength="64.3" lengthAdjust="spacingAndGlyphs">Exhansion</text>
</g>
<line x1="1699.5" y1="35" x2="1699.5" y2="748" stroke="#4f4f4f" stroke-width="1"/>
<line x1="14" y1="709.5" x2="1800" y2="709.5" stroke="#4f4f4f" stroke-width="1"/>
<text x="1788.3" y="127.5" font-size="17.4" fill="#4a4a4a" text-anchor="end">4,200.000</text>
<text x="1788.3" y="213.4" font-size="17.4" fill="#4a4a4a" text-anchor="end">3,800.000</text>
<text x="1788.3" y="259.8" font-size="17.4" fill="#4a4a4a" text-anchor="end">3,600.000</text>
<text x="1788.3" y="308.8" font-size="17.4" fill="#4a4a4a" text-anchor="end">3,400.000</text>
<text x="1788.3" y="360.9" font-size="17.4" fill="#4a4a4a" text-anchor="end">3,200.000</text>
<text x="1788.3" y="416.3" font-size="17.4" fill="#4a4a4a" text-anchor="end">3,000.000</text>
<text x="1788.3" y="475.5" font-size="17.4" fill="#4a4a4a" text-anchor="end">2,800.000</text>
<text x="1788.3" y="522.7" font-size="17.4" fill="#4a4a4a" text-anchor="end">2,650.000</text>
<text x="1788.3" y="576.2" font-size="17.4" fill="#4a4a4a" text-anchor="end">2,490.000</text>
<text x="1788.3" y="620.4" font-size="17.4" fill="#4a4a4a" text-anchor="end">2,365.000</text>
<text x="1788.3" y="665.1" font-size="17.4" fill="#4a4a4a" text-anchor="end">2,245.000</text>
<text x="105.5" y="734.8" font-size="18" fill="#555555" textLength="28.2" lengthAdjust="spacingAndGlyphs">Mar</text>
<text x="248.8" y="734.8" font-size="18" fill="#555555" textLength="29.7" lengthAdjust="spacingAndGlyphs">May</text>
<text x="400.0" y="734.8" font-size="18" fill="#555555" textLength="21.8" lengthAdjust="spacingAndGlyphs">Jul</text>
<text x="551.8" y="734.8" font-size="18" fill="#555555" textLength="27.4" lengthAdjust="spacingAndGlyphs">Sep</text>
<text x="702.4" y="734.8" font-size="18" fill="#555555" textLength="28.5" lengthAdjust="spacingAndGlyphs">Nov</text>
<text x="841.2" y="734.8" font-size="17.2" fill="#3d3d3d" font-weight="700" textLength="39.1" lengthAdjust="spacingAndGlyphs">2025</text>
<text x="990.3" y="734.8" font-size="18" fill="#555555" textLength="28.4" lengthAdjust="spacingAndGlyphs">Mar</text>
<text x="1133.8" y="734.8" font-size="18" fill="#555555" textLength="29.8" lengthAdjust="spacingAndGlyphs">May</text>
<text x="1285.0" y="734.8" font-size="18" fill="#555555" textLength="21.9" lengthAdjust="spacingAndGlyphs">Jul</text>
<text x="1433.7" y="734.8" font-size="18" fill="#555555" textLength="26.8" lengthAdjust="spacingAndGlyphs">Sep</text>
<text x="1587.5" y="734.8" font-size="18" fill="#555555" textLength="28.4" lengthAdjust="spacingAndGlyphs">Nov</text>
<rect x="1625" y="77" width="170.8" height="24.8" rx="2.5" fill="#68a583"/>
<line x1="1699.5" y1="77" x2="1699.5" y2="101.6" stroke="#4f4f4f" stroke-width="1"/>
<text x="1630.9" y="95.8" font-size="18.7" fill="#ffffff" stroke="#ffffff" stroke-width="0.35" textLength="61.5" lengthAdjust="spacingAndGlyphs">XAUUSD</text>
<text x="1711.8" y="95.2" font-size="17.4" fill="#ffffff" stroke="#ffffff" stroke-width="0.35" textLength="77.3" lengthAdjust="spacingAndGlyphs">4,366.715</text>
<rect x="1703.8" y="38.7" width="92.6" height="32.7" rx="6" fill="#fdfdfd" stroke="#efefef" stroke-width="1.5"/>
<text x="1715.5" y="59.7" font-size="14.5" fill="#131722" textLength="25.5" lengthAdjust="spacingAndGlyphs">USD</text>
<circle cx="1564.6" cy="692.3" r="12.3" fill="#fff" stroke="#9c27b0" stroke-width="1.6"/>
<path d="M1568.6,685.9 L1560.2,692.7 L1569.1,692.1 L1560.8,699.1" fill="none" stroke="#9c27b0" stroke-width="1.9" stroke-linejoin="miter" stroke-miterlimit="3"/>
<text x="23.5" y="58.8" font-size="14.5" fill="#555555" textLength="246.2" lengthAdjust="spacingAndGlyphs">Gold Spot / U.S. Dollar · 1D · OANDA</text>
<text x="279.8" y="58.8" font-size="14.5" textLength="74.4" lengthAdjust="spacingAndGlyphs"><tspan fill="#555555">O</tspan><tspan fill="#2c6b44">4,338.030</tspan></text>
<text x="364.6" y="58.8" font-size="14.5" textLength="75.1" lengthAdjust="spacingAndGlyphs"><tspan fill="#555555">H</tspan><tspan fill="#2c6b44">4,380.990</tspan></text>
<text x="450" y="58.8" font-size="14.5" textLength="71.8" lengthAdjust="spacingAndGlyphs"><tspan fill="#555555">L</tspan><tspan fill="#2c6b44">4,333.165</tspan></text>
<text x="532.2" y="58.8" font-size="14.5" textLength="74.1" lengthAdjust="spacingAndGlyphs"><tspan fill="#555555">C</tspan><tspan fill="#2c6b44">4,366.715</tspan></text>
<text x="616.6" y="58.8" font-size="14.5" fill="#2c6b44" textLength="113.2" lengthAdjust="spacingAndGlyphs">+40.650 (+0.94%)</text>
<text x="23.5" y="79.8" font-size="14.5" fill="#555555" textLength="101.4" lengthAdjust="spacingAndGlyphs">SMA (50, close)</text>
<text x="134.6" y="79.8" font-size="14.5" fill="#2962ff" textLength="64.8" lengthAdjust="spacingAndGlyphs">3,677.525</text>
<text x="23.5" y="100.5" font-size="14.5" fill="#555555" textLength="108.8" lengthAdjust="spacingAndGlyphs">SMA (200, close)</text>
<text x="141.9" y="100.5" font-size="14.5" fill="#131722" textLength="65.3" lengthAdjust="spacingAndGlyphs">3,279.183</text>
<text x="23.5" y="121.5" font-size="14.5" fill="#555555" textLength="108.8" lengthAdjust="spacingAndGlyphs">SMA (100, close)</text>
<text x="141.9" y="121.5" font-size="14.5" fill="#ff9800" textLength="66.0" lengthAdjust="spacingAndGlyphs">3,513.868</text>
<g fill="#131722"><path d="M15.2,776.7 H30.3 V795.2 H22.7 V783.6 H15.2 Z"/><circle cx="37.2" cy="780.2" r="3.9"/><path d="M43.6,776.7 H52.8 L46.5,795.2 H37.2 Z"/></g>
<text x="62.1" y="795.2" font-size="26" font-weight="700" fill="#131722" textLength="151.1" lengthAdjust="spacingAndGlyphs">TradingView</text>
</svg></body></html>
